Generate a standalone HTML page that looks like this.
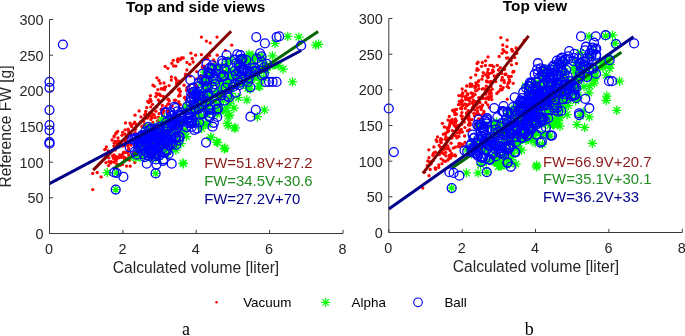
<!DOCTYPE html><html><head><meta charset="utf-8"><title>Figure</title><style>html,body{margin:0;padding:0;background:#fff}svg{display:block}</style></head><body><svg width="685" height="336" viewBox="0 0 685 336" font-family="'Liberation Sans', Arial, sans-serif"><rect width="685" height="336" fill="#fff"/><g fill="#f00"><circle cx="168.2" cy="99.2" r="1.65"/><circle cx="152.7" cy="125.4" r="1.65"/><circle cx="134.8" cy="162.6" r="1.65"/><circle cx="159.1" cy="113.6" r="1.65"/><circle cx="114.0" cy="154.9" r="1.65"/><circle cx="157.9" cy="89.6" r="1.65"/><circle cx="145.3" cy="126.2" r="1.65"/><circle cx="214.8" cy="61.9" r="1.65"/><circle cx="119.5" cy="141.5" r="1.65"/><circle cx="132.9" cy="153.0" r="1.65"/><circle cx="142.1" cy="134.5" r="1.65"/><circle cx="162.5" cy="117.0" r="1.65"/><circle cx="151.5" cy="117.0" r="1.65"/><circle cx="153.0" cy="85.2" r="1.65"/><circle cx="163.3" cy="96.5" r="1.65"/><circle cx="206.4" cy="41.1" r="1.65"/><circle cx="184.4" cy="97.8" r="1.65"/><circle cx="171.8" cy="63.3" r="1.65"/><circle cx="156.9" cy="77.8" r="1.65"/><circle cx="157.9" cy="94.6" r="1.65"/><circle cx="114.4" cy="159.0" r="1.65"/><circle cx="185.9" cy="100.0" r="1.65"/><circle cx="123.5" cy="152.7" r="1.65"/><circle cx="217.2" cy="55.2" r="1.65"/><circle cx="207.8" cy="69.5" r="1.65"/><circle cx="116.2" cy="160.6" r="1.65"/><circle cx="166.0" cy="106.5" r="1.65"/><circle cx="193.1" cy="62.0" r="1.65"/><circle cx="121.4" cy="157.4" r="1.65"/><circle cx="174.4" cy="100.3" r="1.65"/><circle cx="152.6" cy="104.3" r="1.65"/><circle cx="162.6" cy="110.0" r="1.65"/><circle cx="178.8" cy="101.6" r="1.65"/><circle cx="154.4" cy="86.3" r="1.65"/><circle cx="163.0" cy="122.9" r="1.65"/><circle cx="128.1" cy="129.2" r="1.65"/><circle cx="185.5" cy="76.2" r="1.65"/><circle cx="120.4" cy="165.2" r="1.65"/><circle cx="124.2" cy="157.2" r="1.65"/><circle cx="169.1" cy="85.6" r="1.65"/><circle cx="145.5" cy="113.6" r="1.65"/><circle cx="124.0" cy="152.1" r="1.65"/><circle cx="148.7" cy="102.6" r="1.65"/><circle cx="179.3" cy="89.0" r="1.65"/><circle cx="197.2" cy="87.0" r="1.65"/><circle cx="180.1" cy="91.5" r="1.65"/><circle cx="108.8" cy="157.8" r="1.65"/><circle cx="161.7" cy="108.8" r="1.65"/><circle cx="152.8" cy="122.5" r="1.65"/><circle cx="176.3" cy="79.8" r="1.65"/><circle cx="152.7" cy="114.1" r="1.65"/><circle cx="179.3" cy="81.1" r="1.65"/><circle cx="175.4" cy="77.9" r="1.65"/><circle cx="144.5" cy="145.0" r="1.65"/><circle cx="108.6" cy="165.6" r="1.65"/><circle cx="131.2" cy="125.3" r="1.65"/><circle cx="141.0" cy="116.9" r="1.65"/><circle cx="206.8" cy="74.3" r="1.65"/><circle cx="136.3" cy="124.5" r="1.65"/><circle cx="147.7" cy="101.3" r="1.65"/><circle cx="125.0" cy="134.2" r="1.65"/><circle cx="116.5" cy="158.8" r="1.65"/><circle cx="165.2" cy="66.4" r="1.65"/><circle cx="179.7" cy="94.7" r="1.65"/><circle cx="146.2" cy="116.9" r="1.65"/><circle cx="143.4" cy="144.5" r="1.65"/><circle cx="177.4" cy="60.4" r="1.65"/><circle cx="155.3" cy="117.6" r="1.65"/><circle cx="189.8" cy="64.3" r="1.65"/><circle cx="105.6" cy="157.5" r="1.65"/><circle cx="127.8" cy="159.1" r="1.65"/><circle cx="180.3" cy="81.5" r="1.65"/><circle cx="138.4" cy="149.4" r="1.65"/><circle cx="107.1" cy="154.5" r="1.65"/><circle cx="167.7" cy="110.9" r="1.65"/><circle cx="192.2" cy="58.5" r="1.65"/><circle cx="195.7" cy="85.0" r="1.65"/><circle cx="189.3" cy="90.9" r="1.65"/><circle cx="128.3" cy="144.4" r="1.65"/><circle cx="207.5" cy="58.3" r="1.65"/><circle cx="177.9" cy="58.8" r="1.65"/><circle cx="127.8" cy="146.0" r="1.65"/><circle cx="151.1" cy="127.2" r="1.65"/><circle cx="186.9" cy="70.0" r="1.65"/><circle cx="181.2" cy="58.4" r="1.65"/><circle cx="176.7" cy="84.6" r="1.65"/><circle cx="143.8" cy="121.3" r="1.65"/><circle cx="115.7" cy="148.7" r="1.65"/><circle cx="115.3" cy="148.8" r="1.65"/><circle cx="118.7" cy="157.8" r="1.65"/><circle cx="161.3" cy="88.6" r="1.65"/><circle cx="164.6" cy="89.7" r="1.65"/><circle cx="163.7" cy="123.6" r="1.65"/><circle cx="114.1" cy="143.1" r="1.65"/><circle cx="116.8" cy="143.6" r="1.65"/><circle cx="140.1" cy="152.8" r="1.65"/><circle cx="135.5" cy="146.5" r="1.65"/><circle cx="110.5" cy="163.2" r="1.65"/><circle cx="134.4" cy="145.0" r="1.65"/><circle cx="169.4" cy="100.8" r="1.65"/><circle cx="186.7" cy="90.2" r="1.65"/><circle cx="161.6" cy="113.1" r="1.65"/><circle cx="128.4" cy="130.5" r="1.65"/><circle cx="131.2" cy="145.0" r="1.65"/><circle cx="164.2" cy="87.7" r="1.65"/><circle cx="141.8" cy="126.6" r="1.65"/><circle cx="204.0" cy="68.5" r="1.65"/><circle cx="124.5" cy="157.6" r="1.65"/><circle cx="145.5" cy="137.1" r="1.65"/><circle cx="159.0" cy="80.5" r="1.65"/><circle cx="124.8" cy="152.6" r="1.65"/><circle cx="209.6" cy="55.5" r="1.65"/><circle cx="188.3" cy="94.9" r="1.65"/><circle cx="113.6" cy="158.2" r="1.65"/><circle cx="117.0" cy="166.7" r="1.65"/><circle cx="138.8" cy="152.6" r="1.65"/><circle cx="125.5" cy="140.2" r="1.65"/><circle cx="128.3" cy="135.9" r="1.65"/><circle cx="167.8" cy="68.3" r="1.65"/><circle cx="105.3" cy="149.3" r="1.65"/><circle cx="128.8" cy="148.3" r="1.65"/><circle cx="111.3" cy="161.7" r="1.65"/><circle cx="158.4" cy="125.5" r="1.65"/><circle cx="177.9" cy="61.7" r="1.65"/><circle cx="158.2" cy="99.8" r="1.65"/><circle cx="199.9" cy="78.1" r="1.65"/><circle cx="211.4" cy="70.1" r="1.65"/><circle cx="160.3" cy="83.3" r="1.65"/><circle cx="120.8" cy="155.9" r="1.65"/><circle cx="152.3" cy="113.9" r="1.65"/><circle cx="133.8" cy="123.6" r="1.65"/><circle cx="119.6" cy="154.9" r="1.65"/><circle cx="122.7" cy="132.3" r="1.65"/><circle cx="130.0" cy="123.1" r="1.65"/><circle cx="178.6" cy="103.2" r="1.65"/><circle cx="201.4" cy="54.7" r="1.65"/><circle cx="186.9" cy="62.4" r="1.65"/><circle cx="135.4" cy="129.3" r="1.65"/><circle cx="147.2" cy="118.2" r="1.65"/><circle cx="146.0" cy="125.7" r="1.65"/><circle cx="122.0" cy="135.3" r="1.65"/><circle cx="125.5" cy="122.9" r="1.65"/><circle cx="114.6" cy="156.1" r="1.65"/><circle cx="106.0" cy="162.7" r="1.65"/><circle cx="204.9" cy="77.0" r="1.65"/><circle cx="139.4" cy="142.3" r="1.65"/><circle cx="114.0" cy="136.9" r="1.65"/><circle cx="134.7" cy="122.2" r="1.65"/><circle cx="161.8" cy="89.2" r="1.65"/><circle cx="156.4" cy="93.3" r="1.65"/><circle cx="161.1" cy="109.5" r="1.65"/><circle cx="137.2" cy="143.9" r="1.65"/><circle cx="140.2" cy="122.1" r="1.65"/><circle cx="116.4" cy="156.6" r="1.65"/><circle cx="149.7" cy="112.9" r="1.65"/><circle cx="158.1" cy="120.7" r="1.65"/><circle cx="196.7" cy="71.6" r="1.65"/><circle cx="142.8" cy="125.9" r="1.65"/><circle cx="183.3" cy="57.9" r="1.65"/><circle cx="149.6" cy="115.9" r="1.65"/><circle cx="114.0" cy="162.2" r="1.65"/><circle cx="115.9" cy="133.7" r="1.65"/><circle cx="182.3" cy="79.9" r="1.65"/><circle cx="152.0" cy="128.8" r="1.65"/><circle cx="112.1" cy="140.0" r="1.65"/><circle cx="122.9" cy="146.1" r="1.65"/><circle cx="162.7" cy="121.7" r="1.65"/><circle cx="106.4" cy="146.9" r="1.65"/><circle cx="150.9" cy="101.5" r="1.65"/><circle cx="148.4" cy="138.3" r="1.65"/><circle cx="157.3" cy="121.1" r="1.65"/><circle cx="144.6" cy="124.5" r="1.65"/><circle cx="181.5" cy="57.8" r="1.65"/><circle cx="184.0" cy="85.2" r="1.65"/><circle cx="138.5" cy="142.9" r="1.65"/><circle cx="135.0" cy="115.2" r="1.65"/><circle cx="128.6" cy="149.9" r="1.65"/><circle cx="120.9" cy="143.5" r="1.65"/><circle cx="156.6" cy="107.0" r="1.65"/><circle cx="112.5" cy="156.0" r="1.65"/><circle cx="116.2" cy="132.8" r="1.65"/><circle cx="115.1" cy="150.0" r="1.65"/><circle cx="117.7" cy="131.5" r="1.65"/><circle cx="158.5" cy="117.1" r="1.65"/><circle cx="158.7" cy="127.3" r="1.65"/><circle cx="202.2" cy="66.9" r="1.65"/><circle cx="150.7" cy="100.2" r="1.65"/><circle cx="144.0" cy="118.7" r="1.65"/><circle cx="175.8" cy="66.1" r="1.65"/><circle cx="150.8" cy="106.9" r="1.65"/><circle cx="117.8" cy="141.1" r="1.65"/><circle cx="155.9" cy="111.2" r="1.65"/><circle cx="162.5" cy="122.6" r="1.65"/><circle cx="152.3" cy="117.7" r="1.65"/><circle cx="165.6" cy="87.0" r="1.65"/><circle cx="151.7" cy="133.9" r="1.65"/><circle cx="195.6" cy="55.2" r="1.65"/><circle cx="135.2" cy="132.7" r="1.65"/><circle cx="190.1" cy="76.2" r="1.65"/><circle cx="200.9" cy="75.4" r="1.65"/><circle cx="119.1" cy="145.1" r="1.65"/><circle cx="180.5" cy="59.5" r="1.65"/><circle cx="139.1" cy="110.9" r="1.65"/><circle cx="173.3" cy="60.3" r="1.65"/><circle cx="147.7" cy="117.3" r="1.65"/><circle cx="114.5" cy="158.1" r="1.65"/><circle cx="187.0" cy="87.7" r="1.65"/><circle cx="145.8" cy="111.3" r="1.65"/><circle cx="129.6" cy="160.1" r="1.65"/><circle cx="164.1" cy="120.7" r="1.65"/><circle cx="168.8" cy="103.8" r="1.65"/><circle cx="163.2" cy="113.0" r="1.65"/><circle cx="168.5" cy="94.4" r="1.65"/><circle cx="104.7" cy="149.6" r="1.65"/><circle cx="178.4" cy="83.0" r="1.65"/><circle cx="155.8" cy="96.6" r="1.65"/><circle cx="160.6" cy="95.7" r="1.65"/><circle cx="154.7" cy="127.4" r="1.65"/><circle cx="180.4" cy="104.7" r="1.65"/><circle cx="128.1" cy="152.3" r="1.65"/><circle cx="150.4" cy="95.7" r="1.65"/><circle cx="164.4" cy="118.8" r="1.65"/><circle cx="178.6" cy="96.1" r="1.65"/><circle cx="136.4" cy="155.2" r="1.65"/><circle cx="157.6" cy="125.1" r="1.65"/><circle cx="172.2" cy="105.9" r="1.65"/><circle cx="128.7" cy="155.1" r="1.65"/><circle cx="164.0" cy="83.0" r="1.65"/><circle cx="150.2" cy="99.2" r="1.65"/><circle cx="190.2" cy="90.8" r="1.65"/><circle cx="108.4" cy="150.9" r="1.65"/><circle cx="179.7" cy="82.9" r="1.65"/><circle cx="204.2" cy="59.3" r="1.65"/><circle cx="126.7" cy="152.4" r="1.65"/><circle cx="124.8" cy="159.3" r="1.65"/><circle cx="122.3" cy="154.7" r="1.65"/><circle cx="164.1" cy="118.1" r="1.65"/><circle cx="175.6" cy="100.2" r="1.65"/><circle cx="137.6" cy="146.2" r="1.65"/><circle cx="126.9" cy="138.3" r="1.65"/><circle cx="180.1" cy="95.7" r="1.65"/><circle cx="114.0" cy="158.5" r="1.65"/><circle cx="154.6" cy="131.7" r="1.65"/><circle cx="185.6" cy="74.2" r="1.65"/><circle cx="167.7" cy="112.3" r="1.65"/><circle cx="171.3" cy="80.0" r="1.65"/><circle cx="128.9" cy="132.8" r="1.65"/><circle cx="131.7" cy="126.5" r="1.65"/><circle cx="109.0" cy="161.6" r="1.65"/><circle cx="185.1" cy="97.1" r="1.65"/><circle cx="196.7" cy="78.8" r="1.65"/><circle cx="114.0" cy="145.9" r="1.65"/><circle cx="129.5" cy="159.9" r="1.65"/><circle cx="178.3" cy="89.6" r="1.65"/><circle cx="159.4" cy="93.9" r="1.65"/><circle cx="180.2" cy="91.4" r="1.65"/><circle cx="146.7" cy="107.6" r="1.65"/><circle cx="126.5" cy="166.1" r="1.65"/><circle cx="190.9" cy="53.2" r="1.65"/><circle cx="152.7" cy="130.9" r="1.65"/><circle cx="147.1" cy="135.1" r="1.65"/><circle cx="127.5" cy="158.2" r="1.65"/><circle cx="168.2" cy="99.7" r="1.65"/><circle cx="176.6" cy="82.7" r="1.65"/><circle cx="130.2" cy="166.2" r="1.65"/><circle cx="144.7" cy="115.0" r="1.65"/><circle cx="150.9" cy="119.4" r="1.65"/><circle cx="118.3" cy="157.7" r="1.65"/><circle cx="154.8" cy="134.0" r="1.65"/><circle cx="135.6" cy="142.9" r="1.65"/><circle cx="163.8" cy="110.6" r="1.65"/><circle cx="162.8" cy="124.0" r="1.65"/><circle cx="225.4" cy="50.4" r="1.65"/><circle cx="114.3" cy="135.8" r="1.65"/><circle cx="186.7" cy="90.1" r="1.65"/><circle cx="162.4" cy="105.4" r="1.65"/><circle cx="122.5" cy="164.4" r="1.65"/><circle cx="118.0" cy="138.0" r="1.65"/><circle cx="116.8" cy="164.0" r="1.65"/><circle cx="167.8" cy="104.2" r="1.65"/><circle cx="115.2" cy="141.3" r="1.65"/><circle cx="125.4" cy="142.1" r="1.65"/><circle cx="171.7" cy="91.5" r="1.65"/><circle cx="146.1" cy="135.0" r="1.65"/><circle cx="206.9" cy="58.9" r="1.65"/><circle cx="131.2" cy="125.0" r="1.65"/><circle cx="171.4" cy="76.8" r="1.65"/><circle cx="135.1" cy="152.4" r="1.65"/><circle cx="149.8" cy="124.4" r="1.65"/><circle cx="125.1" cy="129.8" r="1.65"/><circle cx="173.6" cy="65.9" r="1.65"/><circle cx="131.1" cy="134.2" r="1.65"/><circle cx="189.8" cy="90.3" r="1.65"/><circle cx="159.5" cy="101.4" r="1.65"/><circle cx="213.5" cy="59.8" r="1.65"/><circle cx="169.3" cy="114.0" r="1.65"/><circle cx="189.3" cy="85.4" r="1.65"/><circle cx="203.9" cy="66.2" r="1.65"/><circle cx="123.4" cy="145.3" r="1.65"/><circle cx="154.2" cy="115.0" r="1.65"/><circle cx="92.7" cy="189.6" r="1.65"/><circle cx="92.7" cy="173.4" r="1.65"/><circle cx="97.2" cy="172.5" r="1.65"/><circle cx="101.1" cy="176.9" r="1.65"/><circle cx="201.4" cy="37.1" r="1.65"/><circle cx="217.0" cy="37.1" r="1.65"/><circle cx="210.2" cy="42.9" r="1.65"/><circle cx="231.7" cy="45.2" r="1.65"/></g><line x1="93.2" y1="170.1" x2="231.1" y2="31.2" stroke="#800000" stroke-width="3"/><g fill="none" stroke="#0f0" stroke-width="1.25"><path d="M248.3 55.5h9.4M253.0 50.8v9.4M249.7 52.1l6.6 6.6M249.7 58.8l6.6 -6.6M151.2 131.4h9.4M155.9 126.7v9.4M152.6 128.0l6.6 6.6M152.6 134.7l6.6 -6.6M267.7 55.8h9.4M272.4 51.1v9.4M269.1 52.4l6.6 6.6M269.1 59.1l6.6 -6.6M249.7 77.8h9.4M254.4 73.1v9.4M251.0 74.5l6.6 6.6M251.0 81.1l6.6 -6.6M221.8 107.9h9.4M226.5 103.2v9.4M223.2 104.5l6.6 6.6M223.2 111.2l6.6 -6.6M129.0 156.9h9.4M133.7 152.2v9.4M130.4 153.6l6.6 6.6M130.4 160.3l6.6 -6.6M228.4 71.2h9.4M233.1 66.5v9.4M229.7 67.9l6.6 6.6M229.7 74.5l6.6 -6.6M216.8 74.5h9.4M221.5 69.8v9.4M218.2 71.2l6.6 6.6M218.2 77.8l6.6 -6.6M238.9 84.4h9.4M243.6 79.7v9.4M240.3 81.1l6.6 6.6M240.3 87.7l6.6 -6.6M269.6 64.9h9.4M274.3 60.2v9.4M270.9 61.6l6.6 6.6M270.9 68.3l6.6 -6.6M135.2 138.9h9.4M139.9 134.2v9.4M136.6 135.5l6.6 6.6M136.6 142.2l6.6 -6.6M190.2 93.1h9.4M194.9 88.4v9.4M191.6 89.8l6.6 6.6M191.6 96.4l6.6 -6.6M245.1 72.5h9.4M249.8 67.8v9.4M246.4 69.2l6.6 6.6M246.4 75.9l6.6 -6.6M223.7 61.1h9.4M228.4 56.4v9.4M225.0 57.8l6.6 6.6M225.0 64.5l6.6 -6.6M246.6 67.6h9.4M251.3 62.9v9.4M248.0 64.3l6.6 6.6M248.0 70.9l6.6 -6.6M250.0 74.0h9.4M254.7 69.3v9.4M251.3 70.7l6.6 6.6M251.3 77.3l6.6 -6.6M137.0 146.2h9.4M141.7 141.5v9.4M138.4 142.8l6.6 6.6M138.4 149.5l6.6 -6.6M245.1 56.6h9.4M249.8 51.9v9.4M246.5 53.2l6.6 6.6M246.5 59.9l6.6 -6.6M230.8 75.6h9.4M235.5 70.9v9.4M232.2 72.3l6.6 6.6M232.2 79.0l6.6 -6.6M145.1 157.7h9.4M149.8 153.0v9.4M146.5 154.4l6.6 6.6M146.5 161.0l6.6 -6.6M155.1 132.0h9.4M159.8 127.3v9.4M156.4 128.7l6.6 6.6M156.4 135.3l6.6 -6.6M147.5 153.3h9.4M152.2 148.6v9.4M148.9 150.0l6.6 6.6M148.9 156.7l6.6 -6.6M164.2 130.4h9.4M168.9 125.7v9.4M165.5 127.1l6.6 6.6M165.5 133.7l6.6 -6.6M151.7 131.8h9.4M156.4 127.1v9.4M153.1 128.5l6.6 6.6M153.1 135.1l6.6 -6.6M171.5 139.0h9.4M176.2 134.3v9.4M172.9 135.6l6.6 6.6M172.9 142.3l6.6 -6.6M133.1 142.2h9.4M137.8 137.5v9.4M134.4 138.9l6.6 6.6M134.4 145.5l6.6 -6.6M216.4 85.4h9.4M221.1 80.7v9.4M217.8 82.1l6.6 6.6M217.8 88.7l6.6 -6.6M222.7 84.9h9.4M227.4 80.2v9.4M224.0 81.6l6.6 6.6M224.0 88.2l6.6 -6.6M243.8 86.0h9.4M248.5 81.3v9.4M245.2 82.6l6.6 6.6M245.2 89.3l6.6 -6.6M161.7 126.3h9.4M166.4 121.6v9.4M163.1 123.0l6.6 6.6M163.1 129.6l6.6 -6.6M268.2 64.7h9.4M272.9 60.0v9.4M269.6 61.4l6.6 6.6M269.6 68.0l6.6 -6.6M190.6 97.6h9.4M195.3 92.9v9.4M191.9 94.2l6.6 6.6M191.9 100.9l6.6 -6.6M254.0 56.6h9.4M258.7 51.9v9.4M255.3 53.2l6.6 6.6M255.3 59.9l6.6 -6.6M148.0 144.4h9.4M152.7 139.7v9.4M149.3 141.1l6.6 6.6M149.3 147.7l6.6 -6.6M233.8 65.7h9.4M238.5 61.0v9.4M235.2 62.4l6.6 6.6M235.2 69.0l6.6 -6.6M163.2 144.1h9.4M167.9 139.4v9.4M164.6 140.8l6.6 6.6M164.6 147.5l6.6 -6.6M151.1 133.0h9.4M155.8 128.3v9.4M152.5 129.7l6.6 6.6M152.5 136.3l6.6 -6.6M164.7 142.9h9.4M169.4 138.2v9.4M166.1 139.6l6.6 6.6M166.1 146.2l6.6 -6.6M155.4 124.7h9.4M160.1 120.0v9.4M156.8 121.4l6.6 6.6M156.8 128.0l6.6 -6.6M139.4 143.6h9.4M144.1 138.9v9.4M140.8 140.3l6.6 6.6M140.8 146.9l6.6 -6.6M248.4 60.0h9.4M253.1 55.3v9.4M249.8 56.7l6.6 6.6M249.8 63.3l6.6 -6.6M155.7 128.6h9.4M160.4 123.9v9.4M157.1 125.3l6.6 6.6M157.1 131.9l6.6 -6.6M235.6 63.1h9.4M240.3 58.4v9.4M237.0 59.7l6.6 6.6M237.0 66.4l6.6 -6.6M260.6 69.9h9.4M265.3 65.2v9.4M261.9 66.5l6.6 6.6M261.9 73.2l6.6 -6.6M198.5 82.6h9.4M203.2 77.9v9.4M199.9 79.3l6.6 6.6M199.9 85.9l6.6 -6.6M258.2 61.7h9.4M262.9 57.0v9.4M259.6 58.4l6.6 6.6M259.6 65.1l6.6 -6.6M140.9 153.7h9.4M145.6 149.0v9.4M142.2 150.4l6.6 6.6M142.2 157.1l6.6 -6.6M199.4 99.0h9.4M204.1 94.3v9.4M200.8 95.6l6.6 6.6M200.8 102.3l6.6 -6.6M208.6 82.4h9.4M213.3 77.7v9.4M209.9 79.0l6.6 6.6M209.9 85.7l6.6 -6.6M222.9 83.0h9.4M227.6 78.3v9.4M224.3 79.7l6.6 6.6M224.3 86.4l6.6 -6.6M241.3 60.5h9.4M246.0 55.8v9.4M242.7 57.1l6.6 6.6M242.7 63.8l6.6 -6.6M218.8 100.7h9.4M223.5 96.0v9.4M220.2 97.3l6.6 6.6M220.2 104.0l6.6 -6.6M168.4 128.2h9.4M173.1 123.5v9.4M169.8 124.9l6.6 6.6M169.8 131.6l6.6 -6.6M186.5 108.8h9.4M191.2 104.1v9.4M187.8 105.4l6.6 6.6M187.8 112.1l6.6 -6.6M193.2 124.0h9.4M197.9 119.3v9.4M194.6 120.6l6.6 6.6M194.6 127.3l6.6 -6.6M143.7 140.7h9.4M148.4 136.0v9.4M145.1 137.4l6.6 6.6M145.1 144.0l6.6 -6.6M235.4 59.3h9.4M240.1 54.6v9.4M236.8 56.0l6.6 6.6M236.8 62.6l6.6 -6.6M239.2 77.1h9.4M243.9 72.4v9.4M240.5 73.8l6.6 6.6M240.5 80.5l6.6 -6.6M261.7 70.1h9.4M266.4 65.4v9.4M263.1 66.7l6.6 6.6M263.1 73.4l6.6 -6.6M234.3 83.2h9.4M239.0 78.5v9.4M235.6 79.9l6.6 6.6M235.6 86.6l6.6 -6.6M165.0 129.6h9.4M169.7 124.9v9.4M166.4 126.3l6.6 6.6M166.4 133.0l6.6 -6.6M246.6 78.3h9.4M251.3 73.6v9.4M248.0 75.0l6.6 6.6M248.0 81.7l6.6 -6.6M140.2 153.1h9.4M144.9 148.4v9.4M141.5 149.8l6.6 6.6M141.5 156.5l6.6 -6.6M181.2 109.4h9.4M185.9 104.7v9.4M182.5 106.1l6.6 6.6M182.5 112.7l6.6 -6.6M160.0 145.5h9.4M164.7 140.8v9.4M161.4 142.2l6.6 6.6M161.4 148.9l6.6 -6.6M171.2 150.2h9.4M175.9 145.5v9.4M172.6 146.8l6.6 6.6M172.6 153.5l6.6 -6.6M145.7 145.7h9.4M150.4 141.0v9.4M147.1 142.4l6.6 6.6M147.1 149.0l6.6 -6.6M242.5 75.3h9.4M247.2 70.6v9.4M243.9 72.0l6.6 6.6M243.9 78.6l6.6 -6.6M139.0 138.1h9.4M143.7 133.4v9.4M140.4 134.8l6.6 6.6M140.4 141.4l6.6 -6.6M137.1 146.5h9.4M141.8 141.8v9.4M138.5 143.1l6.6 6.6M138.5 149.8l6.6 -6.6M196.2 123.7h9.4M200.9 119.0v9.4M197.6 120.4l6.6 6.6M197.6 127.1l6.6 -6.6M257.8 57.1h9.4M262.5 52.4v9.4M259.1 53.8l6.6 6.6M259.1 60.4l6.6 -6.6M150.2 152.6h9.4M154.9 147.9v9.4M151.6 149.2l6.6 6.6M151.6 155.9l6.6 -6.6M148.3 146.3h9.4M153.0 141.6v9.4M149.7 143.0l6.6 6.6M149.7 149.6l6.6 -6.6M215.1 89.8h9.4M219.8 85.1v9.4M216.5 86.4l6.6 6.6M216.5 93.1l6.6 -6.6M138.7 144.9h9.4M143.4 140.2v9.4M140.0 141.6l6.6 6.6M140.0 148.2l6.6 -6.6M222.2 63.8h9.4M226.9 59.1v9.4M223.5 60.5l6.6 6.6M223.5 67.2l6.6 -6.6M201.4 123.3h9.4M206.1 118.6v9.4M202.8 120.0l6.6 6.6M202.8 126.7l6.6 -6.6M152.7 141.3h9.4M157.4 136.6v9.4M154.0 138.0l6.6 6.6M154.0 144.6l6.6 -6.6M220.9 85.8h9.4M225.6 81.1v9.4M222.3 82.4l6.6 6.6M222.3 89.1l6.6 -6.6M187.9 92.7h9.4M192.6 88.0v9.4M189.3 89.4l6.6 6.6M189.3 96.1l6.6 -6.6M139.8 151.5h9.4M144.5 146.8v9.4M141.2 148.2l6.6 6.6M141.2 154.8l6.6 -6.6M241.3 67.6h9.4M246.0 62.9v9.4M242.7 64.3l6.6 6.6M242.7 70.9l6.6 -6.6M214.6 82.4h9.4M219.3 77.7v9.4M216.0 79.0l6.6 6.6M216.0 85.7l6.6 -6.6M146.3 130.6h9.4M151.0 125.9v9.4M147.6 127.2l6.6 6.6M147.6 133.9l6.6 -6.6M161.4 140.7h9.4M166.1 136.0v9.4M162.8 137.4l6.6 6.6M162.8 144.1l6.6 -6.6M147.4 156.8h9.4M152.1 152.1v9.4M148.8 153.5l6.6 6.6M148.8 160.1l6.6 -6.6M203.1 124.6h9.4M207.8 119.9v9.4M204.5 121.3l6.6 6.6M204.5 127.9l6.6 -6.6M135.5 157.2h9.4M140.2 152.5v9.4M136.9 153.9l6.6 6.6M136.9 160.5l6.6 -6.6M205.7 97.4h9.4M210.4 92.7v9.4M207.1 94.1l6.6 6.6M207.1 100.7l6.6 -6.6M228.5 74.7h9.4M233.2 70.0v9.4M229.9 71.4l6.6 6.6M229.9 78.0l6.6 -6.6M200.5 89.8h9.4M205.2 85.1v9.4M201.8 86.5l6.6 6.6M201.8 93.1l6.6 -6.6M131.1 157.7h9.4M135.8 153.0v9.4M132.5 154.4l6.6 6.6M132.5 161.0l6.6 -6.6M147.1 147.3h9.4M151.8 142.6v9.4M148.5 144.0l6.6 6.6M148.5 150.6l6.6 -6.6M244.4 57.1h9.4M249.1 52.4v9.4M245.8 53.8l6.6 6.6M245.8 60.4l6.6 -6.6M153.8 145.3h9.4M158.5 140.6v9.4M155.2 142.0l6.6 6.6M155.2 148.7l6.6 -6.6M150.7 144.0h9.4M155.4 139.3v9.4M152.0 140.7l6.6 6.6M152.0 147.3l6.6 -6.6M234.2 70.7h9.4M238.9 66.0v9.4M235.5 67.4l6.6 6.6M235.5 74.0l6.6 -6.6M153.7 159.1h9.4M158.4 154.4v9.4M155.0 155.7l6.6 6.6M155.0 162.4l6.6 -6.6M223.8 85.5h9.4M228.5 80.8v9.4M225.2 82.2l6.6 6.6M225.2 88.8l6.6 -6.6M255.5 80.3h9.4M260.2 75.6v9.4M256.9 77.0l6.6 6.6M256.9 83.6l6.6 -6.6M226.4 78.7h9.4M231.1 74.0v9.4M227.7 75.4l6.6 6.6M227.7 82.0l6.6 -6.6M180.3 130.0h9.4M185.0 125.3v9.4M181.7 126.7l6.6 6.6M181.7 133.3l6.6 -6.6M229.0 77.0h9.4M233.7 72.3v9.4M230.4 73.6l6.6 6.6M230.4 80.3l6.6 -6.6M239.7 82.4h9.4M244.4 77.7v9.4M241.1 79.1l6.6 6.6M241.1 85.8l6.6 -6.6M229.2 76.1h9.4M233.9 71.4v9.4M230.6 72.7l6.6 6.6M230.6 79.4l6.6 -6.6M154.9 151.8h9.4M159.6 147.1v9.4M156.2 148.5l6.6 6.6M156.2 155.1l6.6 -6.6M245.2 89.1h9.4M249.9 84.4v9.4M246.6 85.8l6.6 6.6M246.6 92.4l6.6 -6.6M161.5 138.8h9.4M166.2 134.1v9.4M162.9 135.5l6.6 6.6M162.9 142.1l6.6 -6.6M167.8 135.0h9.4M172.5 130.3v9.4M169.2 131.7l6.6 6.6M169.2 138.3l6.6 -6.6M212.4 113.9h9.4M217.1 109.2v9.4M213.7 110.6l6.6 6.6M213.7 117.2l6.6 -6.6M200.4 81.6h9.4M205.1 76.9v9.4M201.8 78.3l6.6 6.6M201.8 84.9l6.6 -6.6M210.1 67.9h9.4M214.8 63.2v9.4M211.5 64.6l6.6 6.6M211.5 71.3l6.6 -6.6M176.1 134.9h9.4M180.8 130.2v9.4M177.5 131.6l6.6 6.6M177.5 138.2l6.6 -6.6M205.5 85.4h9.4M210.2 80.7v9.4M206.9 82.1l6.6 6.6M206.9 88.7l6.6 -6.6M246.1 77.0h9.4M250.8 72.3v9.4M247.5 73.7l6.6 6.6M247.5 80.3l6.6 -6.6M234.3 61.7h9.4M239.0 57.0v9.4M235.7 58.4l6.6 6.6M235.7 65.0l6.6 -6.6M213.2 94.2h9.4M217.9 89.5v9.4M214.6 90.8l6.6 6.6M214.6 97.5l6.6 -6.6M196.5 82.3h9.4M201.2 77.6v9.4M197.9 79.0l6.6 6.6M197.9 85.7l6.6 -6.6M217.3 77.4h9.4M222.0 72.7v9.4M218.7 74.1l6.6 6.6M218.7 80.8l6.6 -6.6M226.3 59.4h9.4M231.0 54.7v9.4M227.6 56.1l6.6 6.6M227.6 62.7l6.6 -6.6M195.4 100.5h9.4M200.1 95.8v9.4M196.8 97.1l6.6 6.6M196.8 103.8l6.6 -6.6M170.4 145.1h9.4M175.1 140.4v9.4M171.8 141.8l6.6 6.6M171.8 148.4l6.6 -6.6M133.1 148.3h9.4M137.8 143.6v9.4M134.4 145.0l6.6 6.6M134.4 151.7l6.6 -6.6M135.4 156.0h9.4M140.1 151.3v9.4M136.8 152.7l6.6 6.6M136.8 159.3l6.6 -6.6M192.1 106.2h9.4M196.8 101.5v9.4M193.5 102.9l6.6 6.6M193.5 109.5l6.6 -6.6M223.5 70.3h9.4M228.2 65.6v9.4M224.9 67.0l6.6 6.6M224.9 73.6l6.6 -6.6M169.0 147.8h9.4M173.7 143.1v9.4M170.4 144.4l6.6 6.6M170.4 151.1l6.6 -6.6M221.8 77.1h9.4M226.5 72.4v9.4M223.2 73.7l6.6 6.6M223.2 80.4l6.6 -6.6M246.5 60.6h9.4M251.2 55.9v9.4M247.9 57.3l6.6 6.6M247.9 63.9l6.6 -6.6M150.9 133.3h9.4M155.6 128.6v9.4M152.3 129.9l6.6 6.6M152.3 136.6l6.6 -6.6M223.8 71.6h9.4M228.5 66.9v9.4M225.2 68.3l6.6 6.6M225.2 74.9l6.6 -6.6M232.9 71.9h9.4M237.6 67.2v9.4M234.3 68.6l6.6 6.6M234.3 75.2l6.6 -6.6M241.8 59.3h9.4M246.5 54.6v9.4M243.2 55.9l6.6 6.6M243.2 62.6l6.6 -6.6M157.2 120.2h9.4M161.9 115.5v9.4M158.6 116.9l6.6 6.6M158.6 123.5l6.6 -6.6M159.8 130.3h9.4M164.5 125.6v9.4M161.2 127.0l6.6 6.6M161.2 133.6l6.6 -6.6M203.5 111.5h9.4M208.2 106.8v9.4M204.9 108.2l6.6 6.6M204.9 114.8l6.6 -6.6M213.5 99.7h9.4M218.2 95.0v9.4M214.8 96.4l6.6 6.6M214.8 103.1l6.6 -6.6M222.6 82.2h9.4M227.3 77.5v9.4M224.0 78.8l6.6 6.6M224.0 85.5l6.6 -6.6M145.0 126.5h9.4M149.7 121.8v9.4M146.4 123.1l6.6 6.6M146.4 129.8l6.6 -6.6M197.0 82.7h9.4M201.7 78.0v9.4M198.4 79.4l6.6 6.6M198.4 86.1l6.6 -6.6M166.6 118.6h9.4M171.3 113.9v9.4M168.0 115.3l6.6 6.6M168.0 121.9l6.6 -6.6M225.7 98.4h9.4M230.4 93.7v9.4M227.1 95.1l6.6 6.6M227.1 101.8l6.6 -6.6M168.6 118.7h9.4M173.3 114.0v9.4M170.0 115.3l6.6 6.6M170.0 122.0l6.6 -6.6M196.7 92.3h9.4M201.4 87.6v9.4M198.1 88.9l6.6 6.6M198.1 95.6l6.6 -6.6M196.5 105.8h9.4M201.2 101.1v9.4M197.9 102.5l6.6 6.6M197.9 109.2l6.6 -6.6M209.6 93.6h9.4M214.3 88.9v9.4M211.0 90.3l6.6 6.6M211.0 96.9l6.6 -6.6M189.4 106.7h9.4M194.1 102.0v9.4M190.7 103.4l6.6 6.6M190.7 110.0l6.6 -6.6M181.8 106.0h9.4M186.5 101.3v9.4M183.2 102.7l6.6 6.6M183.2 109.3l6.6 -6.6M151.7 128.6h9.4M156.4 123.9v9.4M153.1 125.3l6.6 6.6M153.1 131.9l6.6 -6.6M217.9 109.6h9.4M222.6 104.9v9.4M219.3 106.3l6.6 6.6M219.3 112.9l6.6 -6.6M234.0 79.5h9.4M238.7 74.8v9.4M235.4 76.1l6.6 6.6M235.4 82.8l6.6 -6.6M174.7 120.3h9.4M179.4 115.6v9.4M176.1 117.0l6.6 6.6M176.1 123.6l6.6 -6.6M254.0 86.2h9.4M258.7 81.5v9.4M255.4 82.9l6.6 6.6M255.4 89.5l6.6 -6.6M158.0 145.4h9.4M162.7 140.7v9.4M159.4 142.1l6.6 6.6M159.4 148.8l6.6 -6.6M252.3 76.1h9.4M257.0 71.4v9.4M253.7 72.8l6.6 6.6M253.7 79.4l6.6 -6.6M245.1 60.8h9.4M249.8 56.1v9.4M246.5 57.5l6.6 6.6M246.5 64.1l6.6 -6.6M208.0 75.0h9.4M212.7 70.3v9.4M209.3 71.6l6.6 6.6M209.3 78.3l6.6 -6.6M141.5 128.2h9.4M146.2 123.5v9.4M142.9 124.8l6.6 6.6M142.9 131.5l6.6 -6.6M156.7 139.0h9.4M161.4 134.3v9.4M158.0 135.7l6.6 6.6M158.0 142.4l6.6 -6.6M153.9 146.4h9.4M158.6 141.7v9.4M155.3 143.1l6.6 6.6M155.3 149.7l6.6 -6.6M160.8 149.8h9.4M165.5 145.1v9.4M162.2 146.5l6.6 6.6M162.2 153.2l6.6 -6.6M243.8 83.4h9.4M248.5 78.7v9.4M245.2 80.1l6.6 6.6M245.2 86.7l6.6 -6.6M226.4 93.4h9.4M231.1 88.7v9.4M227.8 90.1l6.6 6.6M227.8 96.7l6.6 -6.6M143.8 141.0h9.4M148.5 136.3v9.4M145.2 137.6l6.6 6.6M145.2 144.3l6.6 -6.6M151.7 151.6h9.4M156.4 146.9v9.4M153.0 148.2l6.6 6.6M153.0 154.9l6.6 -6.6M202.2 114.1h9.4M206.9 109.4v9.4M203.6 110.7l6.6 6.6M203.6 117.4l6.6 -6.6M154.7 140.5h9.4M159.4 135.8v9.4M156.1 137.2l6.6 6.6M156.1 143.8l6.6 -6.6M244.3 54.3h9.4M249.0 49.6v9.4M245.7 50.9l6.6 6.6M245.7 57.6l6.6 -6.6M155.5 129.2h9.4M160.2 124.5v9.4M156.9 125.9l6.6 6.6M156.9 132.6l6.6 -6.6M222.2 73.2h9.4M226.9 68.5v9.4M223.6 69.9l6.6 6.6M223.6 76.5l6.6 -6.6M224.2 79.5h9.4M228.9 74.8v9.4M225.6 76.2l6.6 6.6M225.6 82.8l6.6 -6.6M241.2 73.7h9.4M245.9 69.0v9.4M242.6 70.4l6.6 6.6M242.6 77.0l6.6 -6.6M262.5 66.7h9.4M267.2 62.0v9.4M263.8 63.4l6.6 6.6M263.8 70.0l6.6 -6.6M256.7 69.3h9.4M261.4 64.6v9.4M258.1 65.9l6.6 6.6M258.1 72.6l6.6 -6.6M225.2 103.1h9.4M229.9 98.4v9.4M226.6 99.8l6.6 6.6M226.6 106.4l6.6 -6.6M150.0 127.0h9.4M154.7 122.3v9.4M151.4 123.7l6.6 6.6M151.4 130.3l6.6 -6.6M203.3 85.5h9.4M208.0 80.8v9.4M204.7 82.1l6.6 6.6M204.7 88.8l6.6 -6.6M233.6 97.7h9.4M238.3 93.0v9.4M234.9 94.4l6.6 6.6M234.9 101.0l6.6 -6.6M135.9 149.9h9.4M140.6 145.2v9.4M137.2 146.6l6.6 6.6M137.2 153.2l6.6 -6.6M196.7 95.2h9.4M201.4 90.5v9.4M198.1 91.9l6.6 6.6M198.1 98.5l6.6 -6.6M178.7 132.0h9.4M183.4 127.3v9.4M180.1 128.7l6.6 6.6M180.1 135.3l6.6 -6.6M150.9 139.6h9.4M155.6 134.9v9.4M152.2 136.3l6.6 6.6M152.2 143.0l6.6 -6.6M211.1 112.1h9.4M215.8 107.4v9.4M212.5 108.7l6.6 6.6M212.5 115.4l6.6 -6.6M203.2 90.1h9.4M207.9 85.4v9.4M204.5 86.8l6.6 6.6M204.5 93.4l6.6 -6.6M168.6 129.9h9.4M173.3 125.2v9.4M170.0 126.5l6.6 6.6M170.0 133.2l6.6 -6.6M243.1 88.2h9.4M247.8 83.5v9.4M244.5 84.9l6.6 6.6M244.5 91.5l6.6 -6.6M134.4 137.8h9.4M139.1 133.1v9.4M135.8 134.5l6.6 6.6M135.8 141.1l6.6 -6.6M216.0 110.9h9.4M220.7 106.2v9.4M217.4 107.6l6.6 6.6M217.4 114.2l6.6 -6.6M233.1 76.1h9.4M237.8 71.4v9.4M234.4 72.7l6.6 6.6M234.4 79.4l6.6 -6.6M173.0 120.8h9.4M177.7 116.1v9.4M174.3 117.5l6.6 6.6M174.3 124.1l6.6 -6.6M261.3 66.8h9.4M266.0 62.1v9.4M262.7 63.5l6.6 6.6M262.7 70.1l6.6 -6.6M148.9 141.8h9.4M153.6 137.1v9.4M150.3 138.5l6.6 6.6M150.3 145.2l6.6 -6.6M174.8 128.9h9.4M179.5 124.2v9.4M176.1 125.5l6.6 6.6M176.1 132.2l6.6 -6.6M196.5 116.1h9.4M201.2 111.4v9.4M197.9 112.8l6.6 6.6M197.9 119.5l6.6 -6.6M159.7 117.9h9.4M164.4 113.2v9.4M161.1 114.5l6.6 6.6M161.1 121.2l6.6 -6.6M199.7 72.0h9.4M204.4 67.3v9.4M201.1 68.7l6.6 6.6M201.1 75.3l6.6 -6.6M149.7 145.1h9.4M154.4 140.4v9.4M151.0 141.7l6.6 6.6M151.0 148.4l6.6 -6.6M211.6 105.9h9.4M216.3 101.2v9.4M213.0 102.6l6.6 6.6M213.0 109.3l6.6 -6.6M204.4 111.8h9.4M209.1 107.1v9.4M205.8 108.5l6.6 6.6M205.8 115.1l6.6 -6.6M208.2 72.0h9.4M212.9 67.3v9.4M209.6 68.7l6.6 6.6M209.6 75.4l6.6 -6.6M204.4 74.0h9.4M209.1 69.3v9.4M205.7 70.7l6.6 6.6M205.7 77.3l6.6 -6.6M220.7 111.0h9.4M225.4 106.3v9.4M222.1 107.7l6.6 6.6M222.1 114.3l6.6 -6.6M177.9 123.7h9.4M182.6 119.0v9.4M179.3 120.4l6.6 6.6M179.3 127.0l6.6 -6.6M153.8 148.8h9.4M158.5 144.1v9.4M155.2 145.5l6.6 6.6M155.2 152.1l6.6 -6.6M186.8 105.0h9.4M191.5 100.3v9.4M188.2 101.7l6.6 6.6M188.2 108.3l6.6 -6.6M161.7 154.6h9.4M166.4 149.9v9.4M163.1 151.3l6.6 6.6M163.1 157.9l6.6 -6.6M196.1 125.8h9.4M200.8 121.1v9.4M197.5 122.5l6.6 6.6M197.5 129.2l6.6 -6.6M213.9 104.3h9.4M218.6 99.6v9.4M215.2 100.9l6.6 6.6M215.2 107.6l6.6 -6.6M139.3 143.9h9.4M144.0 139.2v9.4M140.6 140.6l6.6 6.6M140.6 147.3l6.6 -6.6M181.7 136.6h9.4M186.4 131.9v9.4M183.1 133.2l6.6 6.6M183.1 139.9l6.6 -6.6M204.3 97.1h9.4M209.0 92.4v9.4M205.7 93.8l6.6 6.6M205.7 100.5l6.6 -6.6M138.6 152.0h9.4M143.3 147.3v9.4M140.0 148.6l6.6 6.6M140.0 155.3l6.6 -6.6M259.1 77.6h9.4M263.8 72.9v9.4M260.5 74.3l6.6 6.6M260.5 81.0l6.6 -6.6M142.8 140.8h9.4M147.5 136.1v9.4M144.1 137.5l6.6 6.6M144.1 144.2l6.6 -6.6M210.6 66.3h9.4M215.3 61.6v9.4M212.0 63.0l6.6 6.6M212.0 69.7l6.6 -6.6M201.6 96.9h9.4M206.3 92.2v9.4M202.9 93.6l6.6 6.6M202.9 100.2l6.6 -6.6M251.2 68.1h9.4M255.9 63.4v9.4M252.6 64.8l6.6 6.6M252.6 71.4l6.6 -6.6M164.8 139.9h9.4M169.5 135.2v9.4M166.2 136.5l6.6 6.6M166.2 143.2l6.6 -6.6M193.1 95.7h9.4M197.8 91.0v9.4M194.4 92.4l6.6 6.6M194.4 99.0l6.6 -6.6M148.7 134.0h9.4M153.4 129.3v9.4M150.0 130.7l6.6 6.6M150.0 137.3l6.6 -6.6M188.4 110.6h9.4M193.1 105.9v9.4M189.8 107.3l6.6 6.6M189.8 113.9l6.6 -6.6M224.2 83.5h9.4M228.9 78.8v9.4M225.6 80.2l6.6 6.6M225.6 86.8l6.6 -6.6M166.7 141.7h9.4M171.4 137.0v9.4M168.1 138.3l6.6 6.6M168.1 145.0l6.6 -6.6M202.3 71.1h9.4M207.0 66.4v9.4M203.7 67.8l6.6 6.6M203.7 74.4l6.6 -6.6M154.6 135.7h9.4M159.3 131.0v9.4M156.0 132.4l6.6 6.6M156.0 139.1l6.6 -6.6M154.4 142.7h9.4M159.1 138.0v9.4M155.8 139.3l6.6 6.6M155.8 146.0l6.6 -6.6M236.8 58.2h9.4M241.5 53.5v9.4M238.1 54.9l6.6 6.6M238.1 61.6l6.6 -6.6M156.8 141.4h9.4M161.5 136.7v9.4M158.2 138.1l6.6 6.6M158.2 144.7l6.6 -6.6M204.9 85.7h9.4M209.6 81.0v9.4M206.3 82.4l6.6 6.6M206.3 89.0l6.6 -6.6M192.4 110.0h9.4M197.1 105.3v9.4M193.8 106.6l6.6 6.6M193.8 113.3l6.6 -6.6M243.8 67.7h9.4M248.5 63.0v9.4M245.2 64.4l6.6 6.6M245.2 71.0l6.6 -6.6M216.6 67.3h9.4M221.3 62.6v9.4M218.0 64.0l6.6 6.6M218.0 70.6l6.6 -6.6M246.0 80.1h9.4M250.7 75.4v9.4M247.4 76.7l6.6 6.6M247.4 83.4l6.6 -6.6M197.0 128.6h9.4M201.7 123.9v9.4M198.4 125.3l6.6 6.6M198.4 132.0l6.6 -6.6M195.0 117.4h9.4M199.7 112.7v9.4M196.4 114.1l6.6 6.6M196.4 120.7l6.6 -6.6M202.8 101.2h9.4M207.5 96.5v9.4M204.2 97.9l6.6 6.6M204.2 104.5l6.6 -6.6M202.4 81.2h9.4M207.1 76.5v9.4M203.8 77.9l6.6 6.6M203.8 84.6l6.6 -6.6M203.0 104.2h9.4M207.7 99.5v9.4M204.4 100.9l6.6 6.6M204.4 107.6l6.6 -6.6M161.3 140.5h9.4M166.0 135.8v9.4M162.7 137.2l6.6 6.6M162.7 143.8l6.6 -6.6M111.0 189.6h9.4M115.7 184.9v9.4M112.4 186.3l6.6 6.6M112.4 192.9l6.6 -6.6M102.5 172.5h9.4M107.2 167.8v9.4M103.9 169.2l6.6 6.6M103.9 175.8l6.6 -6.6M111.9 173.0h9.4M116.6 168.3v9.4M113.3 169.7l6.6 6.6M113.3 176.3l6.6 -6.6M150.9 173.4h9.4M155.6 168.7v9.4M152.3 170.1l6.6 6.6M152.3 176.7l6.6 -6.6M178.6 163.7h9.4M183.3 159.0v9.4M180.0 160.4l6.6 6.6M180.0 167.0l6.6 -6.6M176.3 143.5h9.4M181.0 138.8v9.4M177.7 140.2l6.6 6.6M177.7 146.8l6.6 -6.6M283.1 36.4h9.4M287.8 31.7v9.4M284.5 33.1l6.6 6.6M284.5 39.7l6.6 -6.6M294.1 37.1h9.4M298.8 32.4v9.4M295.5 33.8l6.6 6.6M295.5 40.4l6.6 -6.6M311.1 45.0h9.4M315.8 40.3v9.4M312.5 41.7l6.6 6.6M312.5 48.3l6.6 -6.6M313.9 44.3h9.4M318.6 39.6v9.4M315.3 41.0l6.6 6.6M315.3 47.6l6.6 -6.6M270.3 43.4h9.4M275.0 38.7v9.4M271.7 40.1l6.6 6.6M271.7 46.7l6.6 -6.6M287.8 81.9h9.4M292.5 77.2v9.4M289.2 78.6l6.6 6.6M289.2 85.2l6.6 -6.6M278.4 69.1h9.4M283.1 64.4v9.4M279.8 65.8l6.6 6.6M279.8 72.4l6.6 -6.6M273.8 65.6h9.4M278.5 60.9v9.4M275.2 62.3l6.6 6.6M275.2 68.9l6.6 -6.6M255.1 86.6h9.4M259.8 81.9v9.4M256.5 83.3l6.6 6.6M256.5 89.9l6.6 -6.6M259.7 109.9h9.4M264.4 105.2v9.4M261.1 106.6l6.6 6.6M261.1 113.2l6.6 -6.6M252.7 116.7h9.4M257.4 112.0v9.4M254.1 113.4l6.6 6.6M254.1 120.0l6.6 -6.6M223.5 116.2h9.4M228.2 111.5v9.4M224.9 112.9l6.6 6.6M224.9 119.5l6.6 -6.6M223.5 125.6h9.4M228.2 120.9v9.4M224.9 122.3l6.6 6.6M224.9 128.9l6.6 -6.6M230.5 127.9h9.4M235.2 123.2v9.4M231.9 124.6l6.6 6.6M231.9 131.2l6.6 -6.6M206.0 137.2h9.4M210.7 132.5v9.4M207.4 133.9l6.6 6.6M207.4 140.5l6.6 -6.6M213.0 142.6h9.4M217.7 137.9v9.4M214.4 139.3l6.6 6.6M214.4 145.9l6.6 -6.6M219.6 148.9h9.4M224.3 144.2v9.4M221.0 145.6l6.6 6.6M221.0 152.2l6.6 -6.6M242.2 99.9h9.4M246.9 95.2v9.4M243.6 96.6l6.6 6.6M243.6 103.2l6.6 -6.6M229.3 108.0h9.4M234.0 103.3v9.4M230.7 104.7l6.6 6.6M230.7 111.3l6.6 -6.6M178.3 163.0h9.4M183.0 158.3v9.4M179.7 159.7l6.6 6.6M179.7 166.3l6.6 -6.6M206.3 137.4h9.4M211.0 132.7v9.4M207.7 134.1l6.6 6.6M207.7 140.7l6.6 -6.6M212.1 142.0h9.4M216.8 137.3v9.4M213.5 138.7l6.6 6.6M213.5 145.3l6.6 -6.6M220.3 148.0h9.4M225.0 143.3v9.4M221.7 144.7l6.6 6.6M221.7 151.3l6.6 -6.6M229.6 128.0h9.4M234.3 123.3v9.4M231.0 124.7l6.6 6.6M231.0 131.3l6.6 -6.6M222.6 123.4h9.4M227.3 118.7v9.4M224.0 120.1l6.6 6.6M224.0 126.7l6.6 -6.6M225.0 115.0h9.4M229.7 110.3v9.4M226.4 111.7l6.6 6.6M226.4 118.3l6.6 -6.6"/></g><line x1="112.6" y1="169.3" x2="318.1" y2="31.5" stroke="#006400" stroke-width="3"/><g fill="none" stroke="#00f" stroke-width="1.3"><circle cx="143.4" cy="154.2" r="4.45"/><circle cx="193.5" cy="87.5" r="4.45"/><circle cx="191.6" cy="126.9" r="4.45"/><circle cx="168.6" cy="135.7" r="4.45"/><circle cx="161.3" cy="140.4" r="4.45"/><circle cx="165.2" cy="140.7" r="4.45"/><circle cx="170.5" cy="112.1" r="4.45"/><circle cx="190.9" cy="97.8" r="4.45"/><circle cx="252.0" cy="68.1" r="4.45"/><circle cx="174.3" cy="106.8" r="4.45"/><circle cx="144.8" cy="157.2" r="4.45"/><circle cx="175.2" cy="124.5" r="4.45"/><circle cx="174.5" cy="125.5" r="4.45"/><circle cx="261.7" cy="62.1" r="4.45"/><circle cx="187.1" cy="106.8" r="4.45"/><circle cx="158.1" cy="132.5" r="4.45"/><circle cx="154.9" cy="153.4" r="4.45"/><circle cx="171.0" cy="143.1" r="4.45"/><circle cx="193.9" cy="102.4" r="4.45"/><circle cx="194.5" cy="123.0" r="4.45"/><circle cx="175.9" cy="128.2" r="4.45"/><circle cx="195.0" cy="94.8" r="4.45"/><circle cx="151.9" cy="149.0" r="4.45"/><circle cx="165.9" cy="138.0" r="4.45"/><circle cx="171.6" cy="115.9" r="4.45"/><circle cx="246.3" cy="60.1" r="4.45"/><circle cx="188.6" cy="114.7" r="4.45"/><circle cx="209.6" cy="117.2" r="4.45"/><circle cx="172.0" cy="119.7" r="4.45"/><circle cx="187.7" cy="118.9" r="4.45"/><circle cx="166.4" cy="149.6" r="4.45"/><circle cx="148.7" cy="149.8" r="4.45"/><circle cx="233.0" cy="86.9" r="4.45"/><circle cx="174.5" cy="133.9" r="4.45"/><circle cx="208.7" cy="109.6" r="4.45"/><circle cx="148.0" cy="127.1" r="4.45"/><circle cx="155.4" cy="138.7" r="4.45"/><circle cx="209.1" cy="73.0" r="4.45"/><circle cx="144.5" cy="139.7" r="4.45"/><circle cx="159.8" cy="137.0" r="4.45"/><circle cx="141.6" cy="136.2" r="4.45"/><circle cx="262.0" cy="75.4" r="4.45"/><circle cx="151.9" cy="136.7" r="4.45"/><circle cx="153.0" cy="144.4" r="4.45"/><circle cx="198.5" cy="96.2" r="4.45"/><circle cx="148.8" cy="155.9" r="4.45"/><circle cx="186.4" cy="127.5" r="4.45"/><circle cx="149.6" cy="151.5" r="4.45"/><circle cx="150.8" cy="154.1" r="4.45"/><circle cx="179.8" cy="121.8" r="4.45"/><circle cx="235.9" cy="74.2" r="4.45"/><circle cx="260.0" cy="53.3" r="4.45"/><circle cx="150.7" cy="149.0" r="4.45"/><circle cx="165.8" cy="112.9" r="4.45"/><circle cx="134.8" cy="151.6" r="4.45"/><circle cx="129.7" cy="147.3" r="4.45"/><circle cx="198.5" cy="86.0" r="4.45"/><circle cx="146.8" cy="135.6" r="4.45"/><circle cx="151.2" cy="143.4" r="4.45"/><circle cx="146.6" cy="152.6" r="4.45"/><circle cx="188.9" cy="117.0" r="4.45"/><circle cx="165.8" cy="142.2" r="4.45"/><circle cx="207.8" cy="87.7" r="4.45"/><circle cx="212.3" cy="65.4" r="4.45"/><circle cx="188.8" cy="120.8" r="4.45"/><circle cx="226.6" cy="62.2" r="4.45"/><circle cx="152.9" cy="140.0" r="4.45"/><circle cx="176.1" cy="136.8" r="4.45"/><circle cx="199.9" cy="114.6" r="4.45"/><circle cx="163.6" cy="139.7" r="4.45"/><circle cx="216.5" cy="109.7" r="4.45"/><circle cx="239.2" cy="85.1" r="4.45"/><circle cx="220.5" cy="73.9" r="4.45"/><circle cx="149.6" cy="138.1" r="4.45"/><circle cx="142.1" cy="135.1" r="4.45"/><circle cx="239.6" cy="82.7" r="4.45"/><circle cx="142.5" cy="138.7" r="4.45"/><circle cx="246.3" cy="71.8" r="4.45"/><circle cx="178.6" cy="140.4" r="4.45"/><circle cx="135.4" cy="137.9" r="4.45"/><circle cx="198.6" cy="83.2" r="4.45"/><circle cx="223.6" cy="75.5" r="4.45"/><circle cx="208.4" cy="72.9" r="4.45"/><circle cx="155.7" cy="148.1" r="4.45"/><circle cx="247.7" cy="71.1" r="4.45"/><circle cx="139.7" cy="141.5" r="4.45"/><circle cx="249.9" cy="71.6" r="4.45"/><circle cx="150.6" cy="129.0" r="4.45"/><circle cx="174.9" cy="138.2" r="4.45"/><circle cx="213.3" cy="78.5" r="4.45"/><circle cx="191.2" cy="123.3" r="4.45"/><circle cx="196.7" cy="92.6" r="4.45"/><circle cx="155.7" cy="142.9" r="4.45"/><circle cx="159.0" cy="129.7" r="4.45"/><circle cx="215.0" cy="84.2" r="4.45"/><circle cx="141.8" cy="144.3" r="4.45"/><circle cx="209.4" cy="68.0" r="4.45"/><circle cx="168.5" cy="154.0" r="4.45"/><circle cx="177.7" cy="127.6" r="4.45"/><circle cx="224.5" cy="100.6" r="4.45"/><circle cx="212.3" cy="87.2" r="4.45"/><circle cx="162.4" cy="144.3" r="4.45"/><circle cx="140.1" cy="137.2" r="4.45"/><circle cx="164.8" cy="139.1" r="4.45"/><circle cx="194.4" cy="129.9" r="4.45"/><circle cx="145.8" cy="135.5" r="4.45"/><circle cx="139.5" cy="142.7" r="4.45"/><circle cx="163.1" cy="161.0" r="4.45"/><circle cx="203.6" cy="96.4" r="4.45"/><circle cx="210.4" cy="109.6" r="4.45"/><circle cx="164.2" cy="131.6" r="4.45"/><circle cx="159.0" cy="155.5" r="4.45"/><circle cx="242.8" cy="68.5" r="4.45"/><circle cx="167.4" cy="127.7" r="4.45"/><circle cx="191.4" cy="88.5" r="4.45"/><circle cx="190.8" cy="109.5" r="4.45"/><circle cx="221.5" cy="76.8" r="4.45"/><circle cx="207.8" cy="95.7" r="4.45"/><circle cx="148.8" cy="139.2" r="4.45"/><circle cx="192.1" cy="99.6" r="4.45"/><circle cx="140.5" cy="141.6" r="4.45"/><circle cx="159.7" cy="126.9" r="4.45"/><circle cx="234.8" cy="59.7" r="4.45"/><circle cx="221.6" cy="95.3" r="4.45"/><circle cx="151.2" cy="153.1" r="4.45"/><circle cx="164.6" cy="152.8" r="4.45"/><circle cx="240.5" cy="59.3" r="4.45"/><circle cx="182.0" cy="117.3" r="4.45"/><circle cx="190.2" cy="101.8" r="4.45"/><circle cx="177.4" cy="111.3" r="4.45"/><circle cx="218.1" cy="68.8" r="4.45"/><circle cx="159.2" cy="155.4" r="4.45"/><circle cx="201.7" cy="96.5" r="4.45"/><circle cx="167.0" cy="150.8" r="4.45"/><circle cx="190.5" cy="117.5" r="4.45"/><circle cx="218.0" cy="108.7" r="4.45"/><circle cx="213.8" cy="89.8" r="4.45"/><circle cx="150.9" cy="153.4" r="4.45"/><circle cx="256.7" cy="58.7" r="4.45"/><circle cx="155.0" cy="155.8" r="4.45"/><circle cx="153.4" cy="136.0" r="4.45"/><circle cx="179.7" cy="136.7" r="4.45"/><circle cx="209.9" cy="105.3" r="4.45"/><circle cx="248.9" cy="77.8" r="4.45"/><circle cx="154.6" cy="128.7" r="4.45"/><circle cx="227.6" cy="83.6" r="4.45"/><circle cx="264.1" cy="67.4" r="4.45"/><circle cx="152.2" cy="152.6" r="4.45"/><circle cx="186.5" cy="126.9" r="4.45"/><circle cx="222.1" cy="60.8" r="4.45"/><circle cx="151.5" cy="150.1" r="4.45"/><circle cx="198.5" cy="108.8" r="4.45"/><circle cx="164.8" cy="141.3" r="4.45"/><circle cx="154.9" cy="143.3" r="4.45"/><circle cx="227.2" cy="96.0" r="4.45"/><circle cx="239.3" cy="66.7" r="4.45"/><circle cx="241.0" cy="69.5" r="4.45"/><circle cx="195.7" cy="109.7" r="4.45"/><circle cx="248.1" cy="81.9" r="4.45"/><circle cx="215.9" cy="103.9" r="4.45"/><circle cx="204.3" cy="80.7" r="4.45"/><circle cx="150.9" cy="138.3" r="4.45"/><circle cx="222.5" cy="63.4" r="4.45"/><circle cx="255.5" cy="71.5" r="4.45"/><circle cx="234.7" cy="70.8" r="4.45"/><circle cx="193.3" cy="91.9" r="4.45"/><circle cx="150.5" cy="133.5" r="4.45"/><circle cx="254.3" cy="70.8" r="4.45"/><circle cx="152.7" cy="142.3" r="4.45"/><circle cx="175.6" cy="119.3" r="4.45"/><circle cx="261.5" cy="56.3" r="4.45"/><circle cx="190.4" cy="80.0" r="4.45"/><circle cx="154.1" cy="135.7" r="4.45"/><circle cx="205.5" cy="81.6" r="4.45"/><circle cx="138.2" cy="143.7" r="4.45"/><circle cx="165.3" cy="112.1" r="4.45"/><circle cx="192.3" cy="120.3" r="4.45"/><circle cx="171.9" cy="124.2" r="4.45"/><circle cx="235.8" cy="92.6" r="4.45"/><circle cx="170.0" cy="145.1" r="4.45"/><circle cx="206.2" cy="86.2" r="4.45"/><circle cx="266.8" cy="63.8" r="4.45"/><circle cx="181.0" cy="114.9" r="4.45"/><circle cx="236.5" cy="63.2" r="4.45"/><circle cx="178.8" cy="137.1" r="4.45"/><circle cx="156.9" cy="138.2" r="4.45"/><circle cx="174.3" cy="118.1" r="4.45"/><circle cx="224.3" cy="69.4" r="4.45"/><circle cx="140.9" cy="145.7" r="4.45"/><circle cx="202.9" cy="114.0" r="4.45"/><circle cx="232.5" cy="76.0" r="4.45"/><circle cx="173.6" cy="131.6" r="4.45"/><circle cx="193.7" cy="107.9" r="4.45"/><circle cx="254.0" cy="67.9" r="4.45"/><circle cx="206.2" cy="101.4" r="4.45"/><circle cx="138.1" cy="139.7" r="4.45"/><circle cx="168.3" cy="143.4" r="4.45"/><circle cx="155.0" cy="142.6" r="4.45"/><circle cx="223.5" cy="76.3" r="4.45"/><circle cx="158.4" cy="149.3" r="4.45"/><circle cx="160.9" cy="131.2" r="4.45"/><circle cx="238.8" cy="71.5" r="4.45"/><circle cx="161.7" cy="144.8" r="4.45"/><circle cx="228.9" cy="97.5" r="4.45"/><circle cx="196.5" cy="96.5" r="4.45"/><circle cx="199.4" cy="99.3" r="4.45"/><circle cx="199.2" cy="122.5" r="4.45"/><circle cx="242.6" cy="79.5" r="4.45"/><circle cx="237.3" cy="79.5" r="4.45"/><circle cx="180.4" cy="116.1" r="4.45"/><circle cx="168.7" cy="127.8" r="4.45"/><circle cx="199.6" cy="95.2" r="4.45"/><circle cx="172.8" cy="125.0" r="4.45"/><circle cx="175.4" cy="108.1" r="4.45"/><circle cx="136.8" cy="154.7" r="4.45"/><circle cx="241.7" cy="60.4" r="4.45"/><circle cx="225.6" cy="87.7" r="4.45"/><circle cx="215.6" cy="73.6" r="4.45"/><circle cx="146.9" cy="152.1" r="4.45"/><circle cx="145.3" cy="131.5" r="4.45"/><circle cx="244.1" cy="69.2" r="4.45"/><circle cx="224.8" cy="69.0" r="4.45"/><circle cx="209.6" cy="74.4" r="4.45"/><circle cx="140.3" cy="147.7" r="4.45"/><circle cx="171.3" cy="124.1" r="4.45"/><circle cx="238.7" cy="63.9" r="4.45"/><circle cx="152.6" cy="134.2" r="4.45"/><circle cx="194.0" cy="97.9" r="4.45"/><circle cx="157.5" cy="128.5" r="4.45"/><circle cx="191.3" cy="93.2" r="4.45"/><circle cx="176.1" cy="144.9" r="4.45"/><circle cx="263.8" cy="73.9" r="4.45"/><circle cx="156.8" cy="153.9" r="4.45"/><circle cx="181.3" cy="112.4" r="4.45"/><circle cx="159.0" cy="129.8" r="4.45"/><circle cx="189.1" cy="122.0" r="4.45"/><circle cx="154.2" cy="153.7" r="4.45"/><circle cx="148.2" cy="137.1" r="4.45"/><circle cx="166.1" cy="122.9" r="4.45"/><circle cx="181.9" cy="120.8" r="4.45"/><circle cx="211.1" cy="113.5" r="4.45"/><circle cx="132.2" cy="139.2" r="4.45"/><circle cx="176.0" cy="138.5" r="4.45"/><circle cx="240.4" cy="55.2" r="4.45"/><circle cx="149.0" cy="130.4" r="4.45"/><circle cx="244.0" cy="70.2" r="4.45"/><circle cx="242.5" cy="58.8" r="4.45"/><circle cx="164.2" cy="135.3" r="4.45"/><circle cx="211.6" cy="69.1" r="4.45"/><circle cx="187.4" cy="113.3" r="4.45"/><circle cx="151.7" cy="136.2" r="4.45"/><circle cx="242.1" cy="73.0" r="4.45"/><circle cx="206.9" cy="80.0" r="4.45"/><circle cx="209.4" cy="115.9" r="4.45"/><circle cx="193.7" cy="104.9" r="4.45"/><circle cx="166.5" cy="125.6" r="4.45"/><circle cx="234.3" cy="84.5" r="4.45"/><circle cx="237.3" cy="54.4" r="4.45"/><circle cx="155.3" cy="144.7" r="4.45"/><circle cx="139.1" cy="148.3" r="4.45"/><circle cx="166.7" cy="142.4" r="4.45"/><circle cx="213.9" cy="122.8" r="4.45"/><circle cx="151.0" cy="128.8" r="4.45"/><circle cx="172.2" cy="124.5" r="4.45"/><circle cx="167.6" cy="125.8" r="4.45"/><circle cx="211.2" cy="73.5" r="4.45"/><circle cx="176.0" cy="124.5" r="4.45"/><circle cx="166.8" cy="140.9" r="4.45"/><circle cx="165.8" cy="150.6" r="4.45"/><circle cx="202.2" cy="101.8" r="4.45"/><circle cx="216.1" cy="79.4" r="4.45"/><circle cx="156.7" cy="147.8" r="4.45"/><circle cx="158.1" cy="130.2" r="4.45"/><circle cx="211.3" cy="67.9" r="4.45"/><circle cx="156.0" cy="159.5" r="4.45"/><circle cx="172.5" cy="144.4" r="4.45"/><circle cx="146.5" cy="137.1" r="4.45"/><circle cx="188.2" cy="123.1" r="4.45"/><circle cx="178.9" cy="125.0" r="4.45"/><circle cx="181.5" cy="115.0" r="4.45"/><circle cx="201.8" cy="79.6" r="4.45"/><circle cx="136.8" cy="138.2" r="4.45"/><circle cx="208.1" cy="93.3" r="4.45"/><circle cx="159.2" cy="133.2" r="4.45"/><circle cx="134.2" cy="139.1" r="4.45"/><circle cx="115.7" cy="189.6" r="4.45"/><circle cx="114.3" cy="172.5" r="4.45"/><circle cx="116.6" cy="173.0" r="4.45"/><circle cx="123.4" cy="176.9" r="4.45"/><circle cx="155.6" cy="173.4" r="4.45"/><circle cx="171.7" cy="163.7" r="4.45"/><circle cx="156.5" cy="164.6" r="4.45"/><circle cx="146.8" cy="163.7" r="4.45"/><circle cx="163.5" cy="159.3" r="4.45"/><circle cx="256.3" cy="37.1" r="4.45"/><circle cx="264.9" cy="43.4" r="4.45"/><circle cx="276.6" cy="37.1" r="4.45"/><circle cx="279.2" cy="36.4" r="4.45"/><circle cx="301.1" cy="45.7" r="4.45"/><circle cx="226.6" cy="55.0" r="4.45"/><circle cx="206.5" cy="63.9" r="4.45"/><circle cx="202.5" cy="73.7" r="4.45"/><circle cx="265.6" cy="81.9" r="4.45"/><circle cx="269.1" cy="81.9" r="4.45"/><circle cx="272.6" cy="81.9" r="4.45"/><circle cx="276.6" cy="81.9" r="4.45"/><circle cx="250.4" cy="87.3" r="4.45"/><circle cx="255.8" cy="109.9" r="4.45"/><circle cx="250.4" cy="116.7" r="4.45"/><circle cx="206.0" cy="142.6" r="4.45"/><circle cx="212.6" cy="126.7" r="4.45"/><circle cx="197.1" cy="128.6" r="4.45"/><circle cx="217.2" cy="116.9" r="4.45"/><circle cx="49.5" cy="81.8" r="4.45"/><circle cx="49.5" cy="87.8" r="4.45"/><circle cx="49.5" cy="110.1" r="4.45"/><circle cx="49.5" cy="125.0" r="4.45"/><circle cx="49.5" cy="130.3" r="4.45"/><circle cx="49.5" cy="142.2" r="4.45"/><circle cx="49.5" cy="143.7" r="4.45"/><circle cx="62.9" cy="44.5" r="4.45"/></g><line x1="49.5" y1="183.6" x2="301.2" y2="50.5" stroke="#00008b" stroke-width="3"/><path d="M49.5 19.5V233.5H343.0M49.5 233.5h3.6M49.5 197.8h3.6M49.5 162.2h3.6M49.5 126.5h3.6M49.5 90.8h3.6M49.5 55.2h3.6M49.5 19.5h3.6M49.5 233.5v-3.6M122.9 233.5v-3.6M196.2 233.5v-3.6M269.6 233.5v-3.6M343.0 233.5v-3.6" fill="none" stroke="#3a3a3a" stroke-width="1"/><g font-size="14.4" fill="#262626"><g text-anchor="end"><text x="43.4" y="239.1">0</text><text x="43.4" y="203.4">50</text><text x="43.4" y="167.8">100</text><text x="43.4" y="132.1">150</text><text x="43.4" y="96.4">200</text><text x="43.4" y="60.8">250</text><text x="43.4" y="25.1">300</text></g><g text-anchor="middle"><text x="49.0" y="253.5">0</text><text x="122.4" y="253.5">2</text><text x="195.8" y="253.5">4</text><text x="269.1" y="253.5">6</text><text x="342.5" y="253.5">8</text></g></g><g fill="#f00"><circle cx="485.4" cy="65.5" r="1.65"/><circle cx="492.2" cy="89.2" r="1.65"/><circle cx="455.3" cy="118.9" r="1.65"/><circle cx="485.8" cy="94.1" r="1.65"/><circle cx="463.1" cy="145.6" r="1.65"/><circle cx="465.7" cy="96.9" r="1.65"/><circle cx="455.8" cy="109.4" r="1.65"/><circle cx="513.2" cy="83.3" r="1.65"/><circle cx="500.7" cy="86.1" r="1.65"/><circle cx="490.1" cy="91.1" r="1.65"/><circle cx="466.0" cy="117.5" r="1.65"/><circle cx="440.7" cy="138.6" r="1.65"/><circle cx="465.5" cy="97.1" r="1.65"/><circle cx="456.7" cy="132.9" r="1.65"/><circle cx="483.3" cy="72.7" r="1.65"/><circle cx="508.0" cy="83.8" r="1.65"/><circle cx="506.9" cy="46.6" r="1.65"/><circle cx="478.0" cy="81.8" r="1.65"/><circle cx="474.7" cy="109.9" r="1.65"/><circle cx="454.0" cy="125.1" r="1.65"/><circle cx="468.3" cy="98.5" r="1.65"/><circle cx="469.4" cy="119.1" r="1.65"/><circle cx="489.3" cy="94.1" r="1.65"/><circle cx="451.6" cy="153.5" r="1.65"/><circle cx="468.9" cy="116.2" r="1.65"/><circle cx="491.1" cy="81.5" r="1.65"/><circle cx="456.3" cy="120.7" r="1.65"/><circle cx="442.9" cy="153.0" r="1.65"/><circle cx="469.3" cy="104.1" r="1.65"/><circle cx="475.9" cy="82.8" r="1.65"/><circle cx="453.3" cy="148.1" r="1.65"/><circle cx="467.4" cy="117.5" r="1.65"/><circle cx="462.5" cy="145.9" r="1.65"/><circle cx="460.5" cy="108.3" r="1.65"/><circle cx="476.6" cy="84.7" r="1.65"/><circle cx="516.5" cy="63.5" r="1.65"/><circle cx="488.0" cy="56.9" r="1.65"/><circle cx="461.1" cy="115.7" r="1.65"/><circle cx="488.8" cy="99.3" r="1.65"/><circle cx="500.6" cy="89.8" r="1.65"/><circle cx="472.3" cy="86.1" r="1.65"/><circle cx="473.4" cy="95.7" r="1.65"/><circle cx="490.3" cy="96.9" r="1.65"/><circle cx="479.8" cy="98.4" r="1.65"/><circle cx="475.3" cy="124.5" r="1.65"/><circle cx="495.8" cy="81.6" r="1.65"/><circle cx="483.9" cy="111.4" r="1.65"/><circle cx="482.5" cy="115.8" r="1.65"/><circle cx="456.8" cy="137.9" r="1.65"/><circle cx="470.8" cy="77.6" r="1.65"/><circle cx="475.7" cy="86.8" r="1.65"/><circle cx="460.7" cy="143.7" r="1.65"/><circle cx="502.3" cy="77.4" r="1.65"/><circle cx="465.6" cy="90.9" r="1.65"/><circle cx="456.2" cy="127.6" r="1.65"/><circle cx="488.1" cy="77.5" r="1.65"/><circle cx="427.8" cy="161.0" r="1.65"/><circle cx="441.1" cy="158.8" r="1.65"/><circle cx="491.9" cy="65.4" r="1.65"/><circle cx="435.6" cy="152.2" r="1.65"/><circle cx="462.1" cy="96.2" r="1.65"/><circle cx="438.8" cy="164.9" r="1.65"/><circle cx="524.3" cy="40.4" r="1.65"/><circle cx="508.6" cy="76.3" r="1.65"/><circle cx="435.1" cy="168.0" r="1.65"/><circle cx="468.8" cy="119.4" r="1.65"/><circle cx="491.3" cy="93.1" r="1.65"/><circle cx="505.2" cy="74.6" r="1.65"/><circle cx="489.3" cy="107.4" r="1.65"/><circle cx="512.6" cy="51.2" r="1.65"/><circle cx="434.4" cy="152.3" r="1.65"/><circle cx="499.2" cy="56.5" r="1.65"/><circle cx="508.6" cy="76.9" r="1.65"/><circle cx="508.7" cy="82.4" r="1.65"/><circle cx="501.8" cy="89.5" r="1.65"/><circle cx="480.8" cy="119.0" r="1.65"/><circle cx="459.1" cy="125.4" r="1.65"/><circle cx="475.5" cy="101.6" r="1.65"/><circle cx="449.8" cy="124.6" r="1.65"/><circle cx="455.6" cy="122.7" r="1.65"/><circle cx="439.0" cy="154.0" r="1.65"/><circle cx="473.5" cy="104.7" r="1.65"/><circle cx="500.6" cy="89.5" r="1.65"/><circle cx="473.8" cy="106.5" r="1.65"/><circle cx="455.1" cy="113.0" r="1.65"/><circle cx="475.1" cy="94.6" r="1.65"/><circle cx="437.0" cy="141.6" r="1.65"/><circle cx="445.3" cy="161.4" r="1.65"/><circle cx="468.5" cy="125.0" r="1.65"/><circle cx="452.0" cy="138.0" r="1.65"/><circle cx="485.7" cy="98.2" r="1.65"/><circle cx="485.5" cy="74.6" r="1.65"/><circle cx="487.5" cy="72.4" r="1.65"/><circle cx="443.3" cy="160.5" r="1.65"/><circle cx="478.0" cy="62.2" r="1.65"/><circle cx="513.3" cy="71.5" r="1.65"/><circle cx="472.5" cy="93.6" r="1.65"/><circle cx="458.4" cy="125.5" r="1.65"/><circle cx="461.2" cy="129.3" r="1.65"/><circle cx="446.1" cy="148.4" r="1.65"/><circle cx="504.0" cy="80.3" r="1.65"/><circle cx="466.6" cy="105.7" r="1.65"/><circle cx="450.1" cy="122.8" r="1.65"/><circle cx="462.2" cy="116.2" r="1.65"/><circle cx="475.5" cy="123.8" r="1.65"/><circle cx="464.5" cy="136.0" r="1.65"/><circle cx="455.3" cy="126.3" r="1.65"/><circle cx="427.3" cy="165.7" r="1.65"/><circle cx="464.3" cy="122.1" r="1.65"/><circle cx="447.7" cy="129.2" r="1.65"/><circle cx="500.3" cy="67.6" r="1.65"/><circle cx="485.6" cy="60.8" r="1.65"/><circle cx="473.4" cy="100.5" r="1.65"/><circle cx="456.5" cy="125.8" r="1.65"/><circle cx="498.4" cy="74.5" r="1.65"/><circle cx="496.0" cy="78.1" r="1.65"/><circle cx="455.2" cy="147.2" r="1.65"/><circle cx="442.0" cy="163.7" r="1.65"/><circle cx="501.5" cy="80.1" r="1.65"/><circle cx="478.7" cy="80.7" r="1.65"/><circle cx="470.4" cy="111.5" r="1.65"/><circle cx="508.0" cy="57.9" r="1.65"/><circle cx="468.2" cy="110.7" r="1.65"/><circle cx="483.8" cy="113.3" r="1.65"/><circle cx="496.8" cy="93.4" r="1.65"/><circle cx="461.5" cy="102.8" r="1.65"/><circle cx="479.5" cy="107.0" r="1.65"/><circle cx="464.9" cy="127.6" r="1.65"/><circle cx="469.3" cy="122.9" r="1.65"/><circle cx="440.9" cy="142.4" r="1.65"/><circle cx="464.8" cy="103.9" r="1.65"/><circle cx="494.3" cy="76.0" r="1.65"/><circle cx="442.9" cy="147.4" r="1.65"/><circle cx="452.6" cy="123.0" r="1.65"/><circle cx="478.8" cy="97.7" r="1.65"/><circle cx="491.0" cy="86.5" r="1.65"/><circle cx="465.0" cy="142.3" r="1.65"/><circle cx="446.8" cy="140.7" r="1.65"/><circle cx="471.7" cy="84.3" r="1.65"/><circle cx="455.9" cy="114.2" r="1.65"/><circle cx="481.8" cy="106.1" r="1.65"/><circle cx="448.7" cy="148.6" r="1.65"/><circle cx="452.1" cy="119.3" r="1.65"/><circle cx="467.3" cy="98.9" r="1.65"/><circle cx="437.5" cy="136.9" r="1.65"/><circle cx="498.5" cy="70.0" r="1.65"/><circle cx="511.3" cy="76.4" r="1.65"/><circle cx="486.5" cy="80.9" r="1.65"/><circle cx="472.3" cy="97.2" r="1.65"/><circle cx="472.0" cy="119.7" r="1.65"/><circle cx="458.5" cy="104.7" r="1.65"/><circle cx="450.5" cy="120.9" r="1.65"/><circle cx="452.7" cy="110.4" r="1.65"/><circle cx="466.2" cy="117.5" r="1.65"/><circle cx="488.1" cy="69.5" r="1.65"/><circle cx="462.2" cy="89.0" r="1.65"/><circle cx="478.7" cy="118.8" r="1.65"/><circle cx="447.6" cy="131.9" r="1.65"/><circle cx="451.1" cy="143.2" r="1.65"/><circle cx="469.8" cy="101.3" r="1.65"/><circle cx="470.1" cy="123.2" r="1.65"/><circle cx="456.5" cy="109.4" r="1.65"/><circle cx="473.8" cy="113.3" r="1.65"/><circle cx="448.0" cy="120.1" r="1.65"/><circle cx="474.4" cy="116.1" r="1.65"/><circle cx="506.7" cy="52.6" r="1.65"/><circle cx="461.9" cy="112.6" r="1.65"/><circle cx="490.6" cy="90.3" r="1.65"/><circle cx="469.6" cy="129.6" r="1.65"/><circle cx="473.7" cy="106.4" r="1.65"/><circle cx="475.2" cy="86.1" r="1.65"/><circle cx="448.3" cy="138.5" r="1.65"/><circle cx="483.5" cy="88.6" r="1.65"/><circle cx="442.0" cy="152.7" r="1.65"/><circle cx="493.4" cy="71.5" r="1.65"/><circle cx="433.2" cy="160.6" r="1.65"/><circle cx="491.0" cy="97.1" r="1.65"/><circle cx="489.3" cy="90.7" r="1.65"/><circle cx="447.0" cy="148.8" r="1.65"/><circle cx="471.1" cy="92.9" r="1.65"/><circle cx="447.8" cy="145.9" r="1.65"/><circle cx="440.7" cy="147.4" r="1.65"/><circle cx="482.7" cy="105.1" r="1.65"/><circle cx="455.4" cy="135.6" r="1.65"/><circle cx="487.8" cy="104.8" r="1.65"/><circle cx="462.3" cy="132.0" r="1.65"/><circle cx="504.3" cy="51.3" r="1.65"/><circle cx="462.2" cy="118.7" r="1.65"/><circle cx="508.6" cy="82.7" r="1.65"/><circle cx="486.0" cy="90.7" r="1.65"/><circle cx="454.0" cy="111.6" r="1.65"/><circle cx="513.0" cy="72.2" r="1.65"/><circle cx="472.4" cy="107.7" r="1.65"/><circle cx="455.0" cy="154.8" r="1.65"/><circle cx="441.3" cy="142.6" r="1.65"/><circle cx="442.4" cy="123.3" r="1.65"/><circle cx="467.5" cy="93.6" r="1.65"/><circle cx="478.5" cy="114.0" r="1.65"/><circle cx="481.3" cy="115.2" r="1.65"/><circle cx="488.2" cy="97.3" r="1.65"/><circle cx="465.7" cy="96.3" r="1.65"/><circle cx="488.0" cy="75.9" r="1.65"/><circle cx="503.0" cy="49.7" r="1.65"/><circle cx="450.1" cy="150.7" r="1.65"/><circle cx="477.0" cy="90.3" r="1.65"/><circle cx="469.0" cy="98.5" r="1.65"/><circle cx="514.7" cy="57.6" r="1.65"/><circle cx="449.1" cy="155.7" r="1.65"/><circle cx="428.8" cy="149.8" r="1.65"/><circle cx="454.1" cy="111.5" r="1.65"/><circle cx="467.5" cy="118.1" r="1.65"/><circle cx="481.6" cy="66.3" r="1.65"/><circle cx="436.2" cy="139.9" r="1.65"/><circle cx="473.1" cy="104.0" r="1.65"/><circle cx="448.7" cy="158.6" r="1.65"/><circle cx="508.6" cy="87.6" r="1.65"/><circle cx="453.1" cy="110.2" r="1.65"/><circle cx="486.4" cy="89.1" r="1.65"/><circle cx="439.4" cy="154.5" r="1.65"/><circle cx="468.5" cy="117.6" r="1.65"/><circle cx="441.2" cy="151.7" r="1.65"/><circle cx="467.1" cy="105.5" r="1.65"/><circle cx="490.0" cy="65.3" r="1.65"/><circle cx="449.3" cy="116.5" r="1.65"/><circle cx="478.5" cy="101.0" r="1.65"/><circle cx="465.3" cy="108.4" r="1.65"/><circle cx="454.4" cy="121.6" r="1.65"/><circle cx="462.7" cy="93.5" r="1.65"/><circle cx="511.7" cy="49.4" r="1.65"/><circle cx="477.2" cy="108.0" r="1.65"/><circle cx="485.8" cy="102.5" r="1.65"/><circle cx="452.1" cy="121.5" r="1.65"/><circle cx="449.3" cy="126.2" r="1.65"/><circle cx="459.0" cy="143.5" r="1.65"/><circle cx="480.0" cy="102.7" r="1.65"/><circle cx="456.5" cy="114.1" r="1.65"/><circle cx="461.7" cy="108.8" r="1.65"/><circle cx="468.0" cy="113.9" r="1.65"/><circle cx="459.9" cy="130.7" r="1.65"/><circle cx="488.1" cy="97.0" r="1.65"/><circle cx="516.8" cy="53.3" r="1.65"/><circle cx="461.6" cy="124.3" r="1.65"/><circle cx="516.1" cy="48.0" r="1.65"/><circle cx="467.5" cy="130.7" r="1.65"/><circle cx="481.5" cy="107.4" r="1.65"/><circle cx="489.0" cy="82.0" r="1.65"/><circle cx="453.2" cy="135.8" r="1.65"/><circle cx="445.9" cy="143.8" r="1.65"/><circle cx="482.7" cy="76.1" r="1.65"/><circle cx="458.9" cy="136.5" r="1.65"/><circle cx="502.1" cy="53.3" r="1.65"/><circle cx="447.7" cy="160.2" r="1.65"/><circle cx="458.2" cy="136.7" r="1.65"/><circle cx="470.3" cy="98.0" r="1.65"/><circle cx="439.2" cy="145.5" r="1.65"/><circle cx="443.4" cy="134.2" r="1.65"/><circle cx="506.5" cy="58.1" r="1.65"/><circle cx="454.3" cy="155.4" r="1.65"/><circle cx="509.7" cy="81.3" r="1.65"/><circle cx="433.3" cy="153.7" r="1.65"/><circle cx="459.4" cy="133.0" r="1.65"/><circle cx="462.6" cy="92.8" r="1.65"/><circle cx="460.7" cy="104.1" r="1.65"/><circle cx="444.1" cy="154.1" r="1.65"/><circle cx="432.8" cy="155.3" r="1.65"/><circle cx="487.0" cy="75.8" r="1.65"/><circle cx="491.1" cy="83.0" r="1.65"/><circle cx="477.1" cy="68.7" r="1.65"/><circle cx="463.2" cy="105.2" r="1.65"/><circle cx="435.6" cy="168.1" r="1.65"/><circle cx="482.3" cy="89.1" r="1.65"/><circle cx="470.3" cy="86.4" r="1.65"/><circle cx="511.1" cy="60.5" r="1.65"/><circle cx="477.0" cy="70.3" r="1.65"/><circle cx="457.9" cy="146.3" r="1.65"/><circle cx="491.8" cy="99.6" r="1.65"/><circle cx="445.6" cy="133.9" r="1.65"/><circle cx="445.8" cy="133.1" r="1.65"/><circle cx="466.9" cy="85.8" r="1.65"/><circle cx="477.1" cy="63.6" r="1.65"/><circle cx="497.3" cy="65.3" r="1.65"/><circle cx="491.5" cy="95.9" r="1.65"/><circle cx="478.9" cy="88.7" r="1.65"/><circle cx="501.6" cy="73.4" r="1.65"/><circle cx="475.5" cy="90.9" r="1.65"/><circle cx="466.4" cy="112.9" r="1.65"/><circle cx="466.7" cy="104.6" r="1.65"/><circle cx="430.0" cy="162.0" r="1.65"/><circle cx="451.6" cy="156.1" r="1.65"/><circle cx="459.6" cy="146.8" r="1.65"/><circle cx="444.3" cy="127.0" r="1.65"/><circle cx="459.4" cy="101.4" r="1.65"/><circle cx="472.7" cy="93.3" r="1.65"/><circle cx="482.8" cy="98.4" r="1.65"/><circle cx="495.5" cy="76.3" r="1.65"/><circle cx="470.2" cy="125.0" r="1.65"/><circle cx="455.5" cy="155.9" r="1.65"/><circle cx="507.2" cy="40.1" r="1.65"/><circle cx="462.4" cy="96.3" r="1.65"/><circle cx="465.6" cy="99.5" r="1.65"/><circle cx="511.5" cy="64.8" r="1.65"/><circle cx="469.1" cy="120.3" r="1.65"/><circle cx="462.9" cy="144.7" r="1.65"/><circle cx="458.9" cy="95.6" r="1.65"/><circle cx="430.2" cy="169.5" r="1.65"/><circle cx="466.6" cy="115.4" r="1.65"/><circle cx="486.9" cy="81.8" r="1.65"/><circle cx="476.3" cy="114.1" r="1.65"/><circle cx="431.1" cy="163.8" r="1.65"/><circle cx="513.8" cy="71.4" r="1.65"/><circle cx="461.9" cy="106.9" r="1.65"/><circle cx="466.9" cy="86.1" r="1.65"/><circle cx="507.2" cy="86.6" r="1.65"/><circle cx="438.8" cy="167.4" r="1.65"/><circle cx="478.4" cy="85.4" r="1.65"/><circle cx="491.6" cy="72.9" r="1.65"/><circle cx="442.0" cy="139.6" r="1.65"/><circle cx="450.5" cy="154.6" r="1.65"/><circle cx="504.6" cy="69.5" r="1.65"/><circle cx="504.3" cy="82.5" r="1.65"/><circle cx="443.7" cy="149.6" r="1.65"/><circle cx="450.6" cy="158.0" r="1.65"/><circle cx="475.7" cy="74.9" r="1.65"/><circle cx="440.4" cy="140.2" r="1.65"/><circle cx="429.9" cy="162.4" r="1.65"/><circle cx="476.9" cy="104.3" r="1.65"/><circle cx="461.7" cy="100.0" r="1.65"/><circle cx="474.9" cy="127.4" r="1.65"/><circle cx="497.8" cy="74.5" r="1.65"/><circle cx="474.9" cy="87.8" r="1.65"/><circle cx="486.3" cy="86.2" r="1.65"/><circle cx="502.0" cy="89.8" r="1.65"/><circle cx="446.8" cy="127.8" r="1.65"/><circle cx="489.1" cy="73.7" r="1.65"/><circle cx="493.7" cy="66.8" r="1.65"/><circle cx="452.3" cy="130.6" r="1.65"/><circle cx="462.5" cy="101.1" r="1.65"/><circle cx="435.6" cy="169.3" r="1.65"/><circle cx="477.5" cy="111.0" r="1.65"/><circle cx="478.2" cy="69.8" r="1.65"/><circle cx="454.9" cy="114.6" r="1.65"/><circle cx="476.6" cy="103.6" r="1.65"/><circle cx="505.1" cy="74.1" r="1.65"/><circle cx="433.9" cy="146.9" r="1.65"/><circle cx="498.4" cy="91.8" r="1.65"/><circle cx="467.4" cy="94.5" r="1.65"/><circle cx="482.3" cy="96.0" r="1.65"/><circle cx="473.0" cy="95.0" r="1.65"/><circle cx="472.4" cy="102.7" r="1.65"/><circle cx="481.2" cy="109.5" r="1.65"/><circle cx="500.8" cy="37.7" r="1.65"/><circle cx="439.8" cy="152.0" r="1.65"/><circle cx="505.9" cy="74.2" r="1.65"/><circle cx="445.4" cy="139.2" r="1.65"/><circle cx="482.3" cy="62.5" r="1.65"/><circle cx="429.0" cy="157.7" r="1.65"/><circle cx="477.1" cy="112.8" r="1.65"/><circle cx="495.0" cy="79.5" r="1.65"/><circle cx="448.6" cy="131.0" r="1.65"/><circle cx="478.7" cy="120.1" r="1.65"/><circle cx="461.2" cy="95.3" r="1.65"/><circle cx="445.9" cy="155.8" r="1.65"/><circle cx="476.2" cy="101.8" r="1.65"/><circle cx="445.8" cy="136.6" r="1.65"/><circle cx="470.2" cy="84.0" r="1.65"/><circle cx="485.8" cy="98.8" r="1.65"/><circle cx="487.9" cy="91.5" r="1.65"/><circle cx="481.9" cy="79.2" r="1.65"/><circle cx="509.3" cy="79.6" r="1.65"/><circle cx="445.7" cy="152.4" r="1.65"/><circle cx="467.6" cy="99.5" r="1.65"/><circle cx="487.8" cy="77.1" r="1.65"/><circle cx="503.2" cy="87.6" r="1.65"/><circle cx="445.2" cy="145.6" r="1.65"/><circle cx="502.8" cy="45.0" r="1.65"/><circle cx="467.7" cy="94.5" r="1.65"/><circle cx="448.9" cy="127.7" r="1.65"/><circle cx="492.6" cy="70.1" r="1.65"/><circle cx="459.5" cy="144.4" r="1.65"/><circle cx="458.6" cy="130.0" r="1.65"/><circle cx="422.8" cy="188.1" r="1.65"/><circle cx="424.4" cy="172.2" r="1.65"/><circle cx="429.0" cy="175.7" r="1.65"/><circle cx="507.3" cy="99.3" r="1.65"/></g><line x1="422.9" y1="173.4" x2="528.6" y2="35.9" stroke="#800000" stroke-width="3"/><g fill="none" stroke="#0f0" stroke-width="1.25"><path d="M590.5 68.7h9.4M595.2 64.0v9.4M591.9 65.4l6.6 6.6M591.9 72.0l6.6 -6.6M559.9 62.2h9.4M564.6 57.5v9.4M561.3 58.9l6.6 6.6M561.3 65.5l6.6 -6.6M516.2 137.1h9.4M520.9 132.4v9.4M517.6 133.8l6.6 6.6M517.6 140.4l6.6 -6.6M530.9 119.8h9.4M535.6 115.1v9.4M532.3 116.5l6.6 6.6M532.3 123.1l6.6 -6.6M487.4 135.8h9.4M492.1 131.1v9.4M488.8 132.4l6.6 6.6M488.8 139.1l6.6 -6.6M535.2 98.1h9.4M539.9 93.4v9.4M536.6 94.8l6.6 6.6M536.6 101.4l6.6 -6.6M523.2 139.4h9.4M527.9 134.7v9.4M524.6 136.0l6.6 6.6M524.6 142.7l6.6 -6.6M468.2 143.9h9.4M472.9 139.2v9.4M469.6 140.6l6.6 6.6M469.6 147.3l6.6 -6.6M508.0 110.1h9.4M512.7 105.4v9.4M509.4 106.7l6.6 6.6M509.4 113.4l6.6 -6.6M544.6 112.6h9.4M549.3 107.9v9.4M546.0 109.2l6.6 6.6M546.0 115.9l6.6 -6.6M549.7 108.6h9.4M554.4 103.9v9.4M551.1 105.3l6.6 6.6M551.1 111.9l6.6 -6.6M585.1 85.9h9.4M589.8 81.2v9.4M586.5 82.6l6.6 6.6M586.5 89.2l6.6 -6.6M518.5 118.5h9.4M523.2 113.8v9.4M519.9 115.1l6.6 6.6M519.9 121.8l6.6 -6.6M494.9 133.3h9.4M499.6 128.6v9.4M496.2 130.0l6.6 6.6M496.2 136.7l6.6 -6.6M522.5 121.6h9.4M527.2 116.9v9.4M523.8 118.3l6.6 6.6M523.8 124.9l6.6 -6.6M531.2 88.4h9.4M535.9 83.7v9.4M532.5 85.0l6.6 6.6M532.5 91.7l6.6 -6.6M573.2 97.8h9.4M577.9 93.1v9.4M574.6 94.5l6.6 6.6M574.6 101.1l6.6 -6.6M516.0 122.0h9.4M520.7 117.3v9.4M517.4 118.6l6.6 6.6M517.4 125.3l6.6 -6.6M508.8 124.2h9.4M513.5 119.5v9.4M510.2 120.9l6.6 6.6M510.2 127.5l6.6 -6.6M502.8 118.7h9.4M507.5 114.0v9.4M504.2 115.4l6.6 6.6M504.2 122.0l6.6 -6.6M469.6 140.9h9.4M474.3 136.2v9.4M471.0 137.6l6.6 6.6M471.0 144.2l6.6 -6.6M541.9 70.2h9.4M546.6 65.5v9.4M543.3 66.9l6.6 6.6M543.3 73.5l6.6 -6.6M536.6 124.4h9.4M541.3 119.7v9.4M538.0 121.1l6.6 6.6M538.0 127.7l6.6 -6.6M548.9 99.3h9.4M553.6 94.6v9.4M550.3 96.0l6.6 6.6M550.3 102.6l6.6 -6.6M506.8 157.0h9.4M511.5 152.3v9.4M508.2 153.7l6.6 6.6M508.2 160.3l6.6 -6.6M530.7 106.3h9.4M535.4 101.6v9.4M532.1 102.9l6.6 6.6M532.1 109.6l6.6 -6.6M578.5 77.7h9.4M583.2 73.0v9.4M579.9 74.3l6.6 6.6M579.9 81.0l6.6 -6.6M512.4 107.0h9.4M517.1 102.3v9.4M513.7 103.7l6.6 6.6M513.7 110.4l6.6 -6.6M478.1 141.6h9.4M482.8 136.9v9.4M479.5 138.3l6.6 6.6M479.5 144.9l6.6 -6.6M495.5 162.1h9.4M500.2 157.4v9.4M496.9 158.8l6.6 6.6M496.9 165.4l6.6 -6.6M547.8 94.5h9.4M552.5 89.8v9.4M549.1 91.2l6.6 6.6M549.1 97.8l6.6 -6.6M489.1 122.7h9.4M493.8 118.0v9.4M490.5 119.4l6.6 6.6M490.5 126.0l6.6 -6.6M541.3 119.6h9.4M546.0 114.9v9.4M542.7 116.3l6.6 6.6M542.7 122.9l6.6 -6.6M588.9 51.4h9.4M593.6 46.7v9.4M590.3 48.0l6.6 6.6M590.3 54.7l6.6 -6.6M598.2 67.6h9.4M602.9 62.9v9.4M599.5 64.3l6.6 6.6M599.5 70.9l6.6 -6.6M531.8 89.6h9.4M536.5 84.9v9.4M533.2 86.3l6.6 6.6M533.2 92.9l6.6 -6.6M498.5 137.1h9.4M503.2 132.4v9.4M499.9 133.7l6.6 6.6M499.9 140.4l6.6 -6.6M494.8 165.4h9.4M499.5 160.7v9.4M496.1 162.1l6.6 6.6M496.1 168.7l6.6 -6.6M572.1 70.0h9.4M576.8 65.3v9.4M573.5 66.7l6.6 6.6M573.5 73.3l6.6 -6.6M551.1 105.4h9.4M555.8 100.7v9.4M552.5 102.0l6.6 6.6M552.5 108.7l6.6 -6.6M480.5 141.4h9.4M485.2 136.7v9.4M481.9 138.0l6.6 6.6M481.9 144.7l6.6 -6.6M498.0 155.9h9.4M502.7 151.2v9.4M499.3 152.6l6.6 6.6M499.3 159.2l6.6 -6.6M578.3 64.2h9.4M583.0 59.5v9.4M579.7 60.8l6.6 6.6M579.7 67.5l6.6 -6.6M499.0 128.2h9.4M503.7 123.5v9.4M500.3 124.9l6.6 6.6M500.3 131.5l6.6 -6.6M557.1 96.9h9.4M561.8 92.2v9.4M558.5 93.6l6.6 6.6M558.5 100.3l6.6 -6.6M525.7 133.1h9.4M530.4 128.4v9.4M527.1 129.8l6.6 6.6M527.1 136.4l6.6 -6.6M524.5 91.6h9.4M529.2 86.9v9.4M525.8 88.3l6.6 6.6M525.8 95.0l6.6 -6.6M535.9 135.4h9.4M540.6 130.7v9.4M537.2 132.0l6.6 6.6M537.2 138.7l6.6 -6.6M543.8 109.6h9.4M548.5 104.9v9.4M545.2 106.3l6.6 6.6M545.2 112.9l6.6 -6.6M492.1 162.5h9.4M496.8 157.8v9.4M493.5 159.2l6.6 6.6M493.5 165.8l6.6 -6.6M562.0 84.2h9.4M566.7 79.5v9.4M563.4 80.9l6.6 6.6M563.4 87.6l6.6 -6.6M484.6 140.2h9.4M489.3 135.5v9.4M486.0 136.9l6.6 6.6M486.0 143.6l6.6 -6.6M515.5 135.9h9.4M520.2 131.2v9.4M516.9 132.6l6.6 6.6M516.9 139.2l6.6 -6.6M543.8 103.4h9.4M548.5 98.7v9.4M545.2 100.1l6.6 6.6M545.2 106.7l6.6 -6.6M527.2 133.3h9.4M531.9 128.6v9.4M528.6 130.0l6.6 6.6M528.6 136.7l6.6 -6.6M577.6 72.7h9.4M582.3 68.0v9.4M578.9 69.4l6.6 6.6M578.9 76.0l6.6 -6.6M546.0 105.6h9.4M550.7 100.9v9.4M547.4 102.3l6.6 6.6M547.4 108.9l6.6 -6.6M541.0 69.5h9.4M545.7 64.8v9.4M542.4 66.2l6.6 6.6M542.4 72.8l6.6 -6.6M589.6 83.0h9.4M594.3 78.3v9.4M591.0 79.7l6.6 6.6M591.0 86.3l6.6 -6.6M520.4 131.7h9.4M525.1 127.0v9.4M521.8 128.3l6.6 6.6M521.8 135.0l6.6 -6.6M564.9 97.0h9.4M569.6 92.3v9.4M566.3 93.7l6.6 6.6M566.3 100.3l6.6 -6.6M500.3 164.7h9.4M505.0 160.0v9.4M501.7 161.4l6.6 6.6M501.7 168.0l6.6 -6.6M516.0 107.6h9.4M520.7 102.9v9.4M517.4 104.3l6.6 6.6M517.4 110.9l6.6 -6.6M530.0 83.2h9.4M534.7 78.5v9.4M531.4 79.9l6.6 6.6M531.4 86.5l6.6 -6.6M502.9 136.4h9.4M507.6 131.7v9.4M504.3 133.1l6.6 6.6M504.3 139.7l6.6 -6.6M492.9 160.6h9.4M497.6 155.9v9.4M494.3 157.3l6.6 6.6M494.3 163.9l6.6 -6.6M516.3 130.2h9.4M521.0 125.5v9.4M517.7 126.9l6.6 6.6M517.7 133.5l6.6 -6.6M523.9 114.3h9.4M528.6 109.6v9.4M525.3 111.0l6.6 6.6M525.3 117.6l6.6 -6.6M555.7 114.8h9.4M560.4 110.1v9.4M557.1 111.5l6.6 6.6M557.1 118.1l6.6 -6.6M556.9 63.0h9.4M561.6 58.3v9.4M558.3 59.6l6.6 6.6M558.3 66.3l6.6 -6.6M479.4 143.9h9.4M484.1 139.2v9.4M480.7 140.6l6.6 6.6M480.7 147.3l6.6 -6.6M578.4 112.0h9.4M583.1 107.3v9.4M579.8 108.7l6.6 6.6M579.8 115.3l6.6 -6.6M490.4 162.3h9.4M495.1 157.6v9.4M491.8 159.0l6.6 6.6M491.8 165.6l6.6 -6.6M508.2 153.1h9.4M512.9 148.4v9.4M509.6 149.8l6.6 6.6M509.6 156.5l6.6 -6.6M541.1 71.1h9.4M545.8 66.4v9.4M542.5 67.8l6.6 6.6M542.5 74.4l6.6 -6.6M514.3 127.1h9.4M519.0 122.4v9.4M515.7 123.7l6.6 6.6M515.7 130.4l6.6 -6.6M517.6 137.0h9.4M522.3 132.3v9.4M519.0 133.7l6.6 6.6M519.0 140.3l6.6 -6.6M546.4 112.4h9.4M551.1 107.7v9.4M547.8 109.1l6.6 6.6M547.8 115.8l6.6 -6.6M516.0 107.7h9.4M520.7 103.0v9.4M517.4 104.4l6.6 6.6M517.4 111.0l6.6 -6.6M575.0 76.2h9.4M579.7 71.5v9.4M576.4 72.9l6.6 6.6M576.4 79.5l6.6 -6.6M484.2 137.2h9.4M488.9 132.5v9.4M485.6 133.9l6.6 6.6M485.6 140.5l6.6 -6.6M542.2 98.6h9.4M546.9 93.9v9.4M543.6 95.3l6.6 6.6M543.6 101.9l6.6 -6.6M490.2 154.5h9.4M494.9 149.8v9.4M491.6 151.2l6.6 6.6M491.6 157.9l6.6 -6.6M598.4 61.5h9.4M603.1 56.8v9.4M599.8 58.1l6.6 6.6M599.8 64.8l6.6 -6.6M554.1 120.9h9.4M558.8 116.2v9.4M555.5 117.6l6.6 6.6M555.5 124.2l6.6 -6.6M539.2 122.5h9.4M543.9 117.8v9.4M540.6 119.1l6.6 6.6M540.6 125.8l6.6 -6.6M582.2 77.4h9.4M586.9 72.7v9.4M583.5 74.0l6.6 6.6M583.5 80.7l6.6 -6.6M595.6 61.3h9.4M600.3 56.6v9.4M596.9 58.0l6.6 6.6M596.9 64.6l6.6 -6.6M488.4 160.7h9.4M493.1 156.0v9.4M489.7 157.4l6.6 6.6M489.7 164.0l6.6 -6.6M466.8 153.8h9.4M471.5 149.1v9.4M468.2 150.4l6.6 6.6M468.2 157.1l6.6 -6.6M510.4 145.6h9.4M515.1 140.9v9.4M511.8 142.3l6.6 6.6M511.8 148.9l6.6 -6.6M510.5 118.9h9.4M515.2 114.2v9.4M511.9 115.6l6.6 6.6M511.9 122.2l6.6 -6.6M475.2 145.2h9.4M479.9 140.5v9.4M476.5 141.8l6.6 6.6M476.5 148.5l6.6 -6.6M545.3 120.1h9.4M550.0 115.4v9.4M546.7 116.8l6.6 6.6M546.7 123.4l6.6 -6.6M590.3 71.8h9.4M595.0 67.1v9.4M591.7 68.5l6.6 6.6M591.7 75.1l6.6 -6.6M532.8 109.1h9.4M537.5 104.4v9.4M534.1 105.8l6.6 6.6M534.1 112.5l6.6 -6.6M597.4 66.1h9.4M602.1 61.4v9.4M598.8 62.8l6.6 6.6M598.8 69.4l6.6 -6.6M528.7 134.5h9.4M533.4 129.8v9.4M530.1 131.2l6.6 6.6M530.1 137.8l6.6 -6.6M528.8 100.8h9.4M533.5 96.1v9.4M530.2 97.5l6.6 6.6M530.2 104.1l6.6 -6.6M544.0 85.7h9.4M548.7 81.0v9.4M545.4 82.4l6.6 6.6M545.4 89.1l6.6 -6.6M512.0 146.4h9.4M516.7 141.7v9.4M513.4 143.1l6.6 6.6M513.4 149.7l6.6 -6.6M504.7 137.2h9.4M509.4 132.5v9.4M506.1 133.9l6.6 6.6M506.1 140.6l6.6 -6.6M549.8 87.7h9.4M554.5 83.0v9.4M551.2 84.3l6.6 6.6M551.2 91.0l6.6 -6.6M582.8 71.9h9.4M587.5 67.2v9.4M584.1 68.6l6.6 6.6M584.1 75.2l6.6 -6.6M518.7 117.6h9.4M523.4 112.9v9.4M520.0 114.3l6.6 6.6M520.0 120.9l6.6 -6.6M489.0 159.7h9.4M493.7 155.0v9.4M490.4 156.4l6.6 6.6M490.4 163.0l6.6 -6.6M498.0 134.0h9.4M502.7 129.3v9.4M499.4 130.6l6.6 6.6M499.4 137.3l6.6 -6.6M477.9 140.0h9.4M482.6 135.3v9.4M479.3 136.7l6.6 6.6M479.3 143.3l6.6 -6.6M538.9 92.2h9.4M543.6 87.5v9.4M540.3 88.9l6.6 6.6M540.3 95.5l6.6 -6.6M571.5 97.0h9.4M576.2 92.3v9.4M572.9 93.7l6.6 6.6M572.9 100.3l6.6 -6.6M571.7 73.3h9.4M576.4 68.6v9.4M573.1 69.9l6.6 6.6M573.1 76.6l6.6 -6.6M543.2 93.7h9.4M547.9 89.0v9.4M544.6 90.4l6.6 6.6M544.6 97.0l6.6 -6.6M542.7 135.0h9.4M547.4 130.3v9.4M544.1 131.7l6.6 6.6M544.1 138.3l6.6 -6.6M526.2 140.3h9.4M530.9 135.6v9.4M527.6 137.0l6.6 6.6M527.6 143.6l6.6 -6.6M510.1 139.8h9.4M514.8 135.1v9.4M511.4 136.4l6.6 6.6M511.4 143.1l6.6 -6.6M545.8 74.8h9.4M550.5 70.1v9.4M547.2 71.5l6.6 6.6M547.2 78.2l6.6 -6.6M493.7 166.4h9.4M498.4 161.7v9.4M495.1 163.1l6.6 6.6M495.1 169.8l6.6 -6.6M525.5 109.3h9.4M530.2 104.6v9.4M526.9 106.0l6.6 6.6M526.9 112.6l6.6 -6.6M502.1 165.1h9.4M506.8 160.4v9.4M503.5 161.8l6.6 6.6M503.5 168.4l6.6 -6.6M509.2 133.1h9.4M513.9 128.4v9.4M510.6 129.8l6.6 6.6M510.6 136.4l6.6 -6.6M481.7 161.8h9.4M486.4 157.1v9.4M483.0 158.5l6.6 6.6M483.0 165.1l6.6 -6.6M544.3 114.7h9.4M549.0 110.0v9.4M545.7 111.4l6.6 6.6M545.7 118.0l6.6 -6.6M462.2 149.5h9.4M466.9 144.8v9.4M463.6 146.2l6.6 6.6M463.6 152.9l6.6 -6.6M532.8 118.6h9.4M537.5 113.9v9.4M534.2 115.2l6.6 6.6M534.2 121.9l6.6 -6.6M590.0 78.6h9.4M594.7 73.9v9.4M591.4 75.3l6.6 6.6M591.4 82.0l6.6 -6.6M578.4 75.7h9.4M583.1 71.0v9.4M579.7 72.3l6.6 6.6M579.7 79.0l6.6 -6.6M549.1 104.9h9.4M553.8 100.2v9.4M550.5 101.6l6.6 6.6M550.5 108.2l6.6 -6.6M569.5 70.6h9.4M574.2 65.9v9.4M570.9 67.3l6.6 6.6M570.9 74.0l6.6 -6.6M482.3 143.1h9.4M487.0 138.4v9.4M483.7 139.8l6.6 6.6M483.7 146.4l6.6 -6.6M480.2 151.0h9.4M484.9 146.3v9.4M481.6 147.7l6.6 6.6M481.6 154.4l6.6 -6.6M558.7 76.8h9.4M563.4 72.1v9.4M560.1 73.5l6.6 6.6M560.1 80.1l6.6 -6.6M571.9 79.4h9.4M576.6 74.7v9.4M573.3 76.1l6.6 6.6M573.3 82.7l6.6 -6.6M556.5 81.9h9.4M561.2 77.2v9.4M557.9 78.6l6.6 6.6M557.9 85.2l6.6 -6.6M572.5 86.2h9.4M577.2 81.5v9.4M573.9 82.9l6.6 6.6M573.9 89.5l6.6 -6.6M527.9 117.0h9.4M532.6 112.3v9.4M529.2 113.7l6.6 6.6M529.2 120.3l6.6 -6.6M559.8 78.9h9.4M564.5 74.2v9.4M561.1 75.6l6.6 6.6M561.1 82.3l6.6 -6.6M491.0 127.4h9.4M495.7 122.7v9.4M492.4 124.1l6.6 6.6M492.4 130.7l6.6 -6.6M520.6 137.4h9.4M525.3 132.7v9.4M522.0 134.1l6.6 6.6M522.0 140.7l6.6 -6.6M467.1 151.8h9.4M471.8 147.1v9.4M468.5 148.5l6.6 6.6M468.5 155.2l6.6 -6.6M506.7 141.9h9.4M511.4 137.2v9.4M508.0 138.5l6.6 6.6M508.0 145.2l6.6 -6.6M489.3 133.6h9.4M494.0 128.9v9.4M490.7 130.3l6.6 6.6M490.7 136.9l6.6 -6.6M497.5 145.6h9.4M502.2 140.9v9.4M498.9 142.3l6.6 6.6M498.9 148.9l6.6 -6.6M481.8 125.5h9.4M486.5 120.8v9.4M483.2 122.2l6.6 6.6M483.2 128.8l6.6 -6.6M527.1 135.1h9.4M531.8 130.4v9.4M528.5 131.8l6.6 6.6M528.5 138.5l6.6 -6.6M520.4 136.2h9.4M525.1 131.5v9.4M521.8 132.9l6.6 6.6M521.8 139.5l6.6 -6.6M481.7 150.7h9.4M486.4 146.0v9.4M483.1 147.4l6.6 6.6M483.1 154.0l6.6 -6.6M604.1 57.7h9.4M608.8 53.0v9.4M605.5 54.3l6.6 6.6M605.5 61.0l6.6 -6.6M505.0 142.9h9.4M509.7 138.2v9.4M506.4 139.6l6.6 6.6M506.4 146.3l6.6 -6.6M529.6 101.7h9.4M534.3 97.0v9.4M531.0 98.3l6.6 6.6M531.0 105.0l6.6 -6.6M538.0 121.0h9.4M542.7 116.3v9.4M539.4 117.6l6.6 6.6M539.4 124.3l6.6 -6.6M522.1 137.9h9.4M526.8 133.2v9.4M523.5 134.6l6.6 6.6M523.5 141.3l6.6 -6.6M530.1 131.3h9.4M534.8 126.6v9.4M531.5 128.0l6.6 6.6M531.5 134.6l6.6 -6.6M545.3 136.0h9.4M550.0 131.3v9.4M546.6 132.6l6.6 6.6M546.6 139.3l6.6 -6.6M520.6 118.6h9.4M525.3 113.9v9.4M522.0 115.3l6.6 6.6M522.0 121.9l6.6 -6.6M545.7 98.8h9.4M550.4 94.1v9.4M547.1 95.4l6.6 6.6M547.1 102.1l6.6 -6.6M530.9 83.5h9.4M535.6 78.8v9.4M532.3 80.2l6.6 6.6M532.3 86.9l6.6 -6.6M531.5 109.6h9.4M536.2 104.9v9.4M532.9 106.3l6.6 6.6M532.9 112.9l6.6 -6.6M554.0 81.6h9.4M558.7 76.9v9.4M555.4 78.3l6.6 6.6M555.4 84.9l6.6 -6.6M585.0 78.1h9.4M589.7 73.4v9.4M586.3 74.7l6.6 6.6M586.3 81.4l6.6 -6.6M471.4 145.6h9.4M476.1 140.9v9.4M472.8 142.3l6.6 6.6M472.8 149.0l6.6 -6.6M540.8 115.2h9.4M545.5 110.5v9.4M542.2 111.9l6.6 6.6M542.2 118.5l6.6 -6.6M538.9 81.9h9.4M543.6 77.2v9.4M540.2 78.6l6.6 6.6M540.2 85.2l6.6 -6.6M548.6 124.8h9.4M553.3 120.1v9.4M550.0 121.5l6.6 6.6M550.0 128.1l6.6 -6.6M518.1 111.0h9.4M522.8 106.3v9.4M519.4 107.6l6.6 6.6M519.4 114.3l6.6 -6.6M532.4 116.5h9.4M537.1 111.8v9.4M533.7 113.2l6.6 6.6M533.7 119.9l6.6 -6.6M523.9 109.9h9.4M528.6 105.2v9.4M525.2 106.5l6.6 6.6M525.2 113.2l6.6 -6.6M508.2 137.9h9.4M512.9 133.2v9.4M509.6 134.6l6.6 6.6M509.6 141.2l6.6 -6.6M550.8 120.1h9.4M555.5 115.4v9.4M552.2 116.8l6.6 6.6M552.2 123.5l6.6 -6.6M540.8 94.8h9.4M545.5 90.1v9.4M542.2 91.5l6.6 6.6M542.2 98.2l6.6 -6.6M530.2 83.8h9.4M534.9 79.1v9.4M531.6 80.5l6.6 6.6M531.6 87.1l6.6 -6.6M560.0 87.6h9.4M564.7 82.9v9.4M561.3 84.3l6.6 6.6M561.3 90.9l6.6 -6.6M579.3 86.5h9.4M584.0 81.8v9.4M580.7 83.2l6.6 6.6M580.7 89.8l6.6 -6.6M531.4 118.0h9.4M536.1 113.3v9.4M532.8 114.7l6.6 6.6M532.8 121.3l6.6 -6.6M497.8 123.1h9.4M502.5 118.4v9.4M499.2 119.8l6.6 6.6M499.2 126.4l6.6 -6.6M491.5 132.1h9.4M496.2 127.4v9.4M492.9 128.7l6.6 6.6M492.9 135.4l6.6 -6.6M507.0 109.8h9.4M511.7 105.1v9.4M508.4 106.5l6.6 6.6M508.4 113.2l6.6 -6.6M520.0 104.6h9.4M524.7 99.9v9.4M521.4 101.3l6.6 6.6M521.4 108.0l6.6 -6.6M489.2 145.9h9.4M493.9 141.2v9.4M490.6 142.5l6.6 6.6M490.6 149.2l6.6 -6.6M515.5 126.7h9.4M520.2 122.0v9.4M516.8 123.4l6.6 6.6M516.8 130.0l6.6 -6.6M522.2 134.5h9.4M526.9 129.8v9.4M523.5 131.2l6.6 6.6M523.5 137.8l6.6 -6.6M527.1 111.3h9.4M531.8 106.6v9.4M528.5 108.0l6.6 6.6M528.5 114.6l6.6 -6.6M490.5 157.9h9.4M495.2 153.2v9.4M491.9 154.6l6.6 6.6M491.9 161.2l6.6 -6.6M474.2 127.1h9.4M478.9 122.4v9.4M475.5 123.8l6.6 6.6M475.5 130.4l6.6 -6.6M525.1 94.6h9.4M529.8 89.9v9.4M526.5 91.3l6.6 6.6M526.5 97.9l6.6 -6.6M546.2 110.8h9.4M550.9 106.1v9.4M547.6 107.4l6.6 6.6M547.6 114.1l6.6 -6.6M560.9 101.3h9.4M565.6 96.6v9.4M562.3 98.0l6.6 6.6M562.3 104.7l6.6 -6.6M568.8 67.4h9.4M573.5 62.7v9.4M570.2 64.1l6.6 6.6M570.2 70.8l6.6 -6.6M502.9 113.7h9.4M507.6 109.0v9.4M504.3 110.4l6.6 6.6M504.3 117.0l6.6 -6.6M567.9 88.2h9.4M572.6 83.5v9.4M569.3 84.9l6.6 6.6M569.3 91.5l6.6 -6.6M490.3 126.1h9.4M495.0 121.4v9.4M491.7 122.8l6.6 6.6M491.7 129.4l6.6 -6.6M488.7 124.9h9.4M493.4 120.2v9.4M490.1 121.6l6.6 6.6M490.1 128.3l6.6 -6.6M501.8 158.8h9.4M506.5 154.1v9.4M503.2 155.5l6.6 6.6M503.2 162.2l6.6 -6.6M510.1 114.8h9.4M514.8 110.1v9.4M511.4 111.4l6.6 6.6M511.4 118.1l6.6 -6.6M538.8 97.1h9.4M543.5 92.4v9.4M540.2 93.8l6.6 6.6M540.2 100.5l6.6 -6.6M517.0 139.3h9.4M521.7 134.6v9.4M518.3 136.0l6.6 6.6M518.3 142.6l6.6 -6.6M494.5 146.1h9.4M499.2 141.4v9.4M495.9 142.8l6.6 6.6M495.9 149.4l6.6 -6.6M489.2 127.1h9.4M493.9 122.4v9.4M490.6 123.8l6.6 6.6M490.6 130.5l6.6 -6.6M503.3 140.4h9.4M508.0 135.7v9.4M504.6 137.1l6.6 6.6M504.6 143.7l6.6 -6.6M530.2 116.0h9.4M534.9 111.3v9.4M531.5 112.7l6.6 6.6M531.5 119.4l6.6 -6.6M590.6 76.2h9.4M595.3 71.5v9.4M592.0 72.9l6.6 6.6M592.0 79.5l6.6 -6.6M584.3 92.9h9.4M589.0 88.2v9.4M585.7 89.6l6.6 6.6M585.7 96.2l6.6 -6.6M557.8 66.3h9.4M562.5 61.6v9.4M559.1 62.9l6.6 6.6M559.1 69.6l6.6 -6.6M536.3 113.3h9.4M541.0 108.6v9.4M537.6 110.0l6.6 6.6M537.6 116.6l6.6 -6.6M522.8 117.4h9.4M527.5 112.7v9.4M524.2 114.1l6.6 6.6M524.2 120.7l6.6 -6.6M540.5 75.0h9.4M545.2 70.3v9.4M541.9 71.7l6.6 6.6M541.9 78.3l6.6 -6.6M579.5 71.8h9.4M584.2 67.1v9.4M580.9 68.5l6.6 6.6M580.9 75.1l6.6 -6.6M477.0 124.0h9.4M481.7 119.3v9.4M478.4 120.7l6.6 6.6M478.4 127.3l6.6 -6.6M559.4 105.9h9.4M564.1 101.2v9.4M560.8 102.6l6.6 6.6M560.8 109.2l6.6 -6.6M575.6 115.9h9.4M580.3 111.2v9.4M577.0 112.6l6.6 6.6M577.0 119.2l6.6 -6.6M490.1 149.4h9.4M494.8 144.7v9.4M491.5 146.1l6.6 6.6M491.5 152.7l6.6 -6.6M584.8 56.9h9.4M589.5 52.2v9.4M586.2 53.6l6.6 6.6M586.2 60.2l6.6 -6.6M556.5 107.8h9.4M561.2 103.1v9.4M557.8 104.5l6.6 6.6M557.8 111.1l6.6 -6.6M521.2 140.4h9.4M525.9 135.7v9.4M522.5 137.0l6.6 6.6M522.5 143.7l6.6 -6.6M525.3 102.2h9.4M530.0 97.5v9.4M526.7 98.9l6.6 6.6M526.7 105.6l6.6 -6.6M563.7 105.6h9.4M568.4 100.9v9.4M565.1 102.3l6.6 6.6M565.1 108.9l6.6 -6.6M531.3 113.5h9.4M536.0 108.8v9.4M532.6 110.2l6.6 6.6M532.6 116.9l6.6 -6.6M548.5 122.2h9.4M553.2 117.5v9.4M549.9 118.9l6.6 6.6M549.9 125.5l6.6 -6.6M520.8 85.8h9.4M525.5 81.1v9.4M522.1 82.5l6.6 6.6M522.1 89.1l6.6 -6.6M499.8 145.1h9.4M504.5 140.4v9.4M501.2 141.8l6.6 6.6M501.2 148.5l6.6 -6.6M553.8 105.3h9.4M558.5 100.6v9.4M555.2 102.0l6.6 6.6M555.2 108.7l6.6 -6.6M533.1 124.6h9.4M537.8 119.9v9.4M534.5 121.2l6.6 6.6M534.5 127.9l6.6 -6.6M497.1 143.7h9.4M501.8 139.0v9.4M498.5 140.4l6.6 6.6M498.5 147.0l6.6 -6.6M544.4 72.1h9.4M549.1 67.4v9.4M545.8 68.7l6.6 6.6M545.8 75.4l6.6 -6.6M502.3 129.7h9.4M507.0 125.0v9.4M503.6 126.4l6.6 6.6M503.6 133.0l6.6 -6.6M530.6 142.9h9.4M535.3 138.2v9.4M532.0 139.5l6.6 6.6M532.0 146.2l6.6 -6.6M552.0 117.0h9.4M556.7 112.3v9.4M553.3 113.6l6.6 6.6M553.3 120.3l6.6 -6.6M542.2 105.0h9.4M546.9 100.3v9.4M543.5 101.7l6.6 6.6M543.5 108.4l6.6 -6.6M517.0 150.2h9.4M521.7 145.5v9.4M518.4 146.9l6.6 6.6M518.4 153.5l6.6 -6.6M527.9 103.2h9.4M532.6 98.5v9.4M529.3 99.9l6.6 6.6M529.3 106.5l6.6 -6.6M533.1 85.4h9.4M537.8 80.7v9.4M534.5 82.1l6.6 6.6M534.5 88.7l6.6 -6.6M507.3 162.3h9.4M512.0 157.6v9.4M508.6 159.0l6.6 6.6M508.6 165.7l6.6 -6.6M550.3 111.5h9.4M555.0 106.8v9.4M551.7 108.2l6.6 6.6M551.7 114.8l6.6 -6.6M519.7 106.0h9.4M524.4 101.3v9.4M521.1 102.7l6.6 6.6M521.1 109.3l6.6 -6.6M512.4 116.7h9.4M517.1 112.0v9.4M513.8 113.4l6.6 6.6M513.8 120.1l6.6 -6.6M539.1 75.3h9.4M543.8 70.6v9.4M540.5 72.0l6.6 6.6M540.5 78.6l6.6 -6.6M556.1 91.0h9.4M560.8 86.3v9.4M557.4 87.7l6.6 6.6M557.4 94.3l6.6 -6.6M558.2 65.5h9.4M562.9 60.8v9.4M559.6 62.1l6.6 6.6M559.6 68.8l6.6 -6.6M541.1 106.3h9.4M545.8 101.6v9.4M542.5 102.9l6.6 6.6M542.5 109.6l6.6 -6.6M569.3 89.3h9.4M574.0 84.6v9.4M570.6 86.0l6.6 6.6M570.6 92.7l6.6 -6.6M514.2 143.0h9.4M518.9 138.3v9.4M515.6 139.6l6.6 6.6M515.6 146.3l6.6 -6.6M559.5 100.5h9.4M564.2 95.8v9.4M560.9 97.2l6.6 6.6M560.9 103.8l6.6 -6.6M531.1 89.3h9.4M535.8 84.6v9.4M532.5 86.0l6.6 6.6M532.5 92.6l6.6 -6.6M550.3 101.0h9.4M555.0 96.3v9.4M551.6 97.6l6.6 6.6M551.6 104.3l6.6 -6.6M571.0 100.7h9.4M575.7 96.0v9.4M572.4 97.4l6.6 6.6M572.4 104.1l6.6 -6.6M564.6 89.6h9.4M569.3 84.9v9.4M565.9 86.3l6.6 6.6M565.9 93.0l6.6 -6.6M505.5 143.0h9.4M510.2 138.3v9.4M506.9 139.7l6.6 6.6M506.9 146.3l6.6 -6.6M605.0 68.4h9.4M609.7 63.7v9.4M606.4 65.1l6.6 6.6M606.4 71.7l6.6 -6.6M476.0 164.7h9.4M480.7 160.0v9.4M477.4 161.4l6.6 6.6M477.4 168.0l6.6 -6.6M573.6 95.2h9.4M578.3 90.5v9.4M574.9 91.9l6.6 6.6M574.9 98.6l6.6 -6.6M511.3 132.1h9.4M516.0 127.4v9.4M512.6 128.8l6.6 6.6M512.6 135.5l6.6 -6.6M553.7 102.1h9.4M558.4 97.4v9.4M555.1 98.7l6.6 6.6M555.1 105.4l6.6 -6.6M545.3 125.5h9.4M550.0 120.8v9.4M546.7 122.2l6.6 6.6M546.7 128.8l6.6 -6.6M497.1 126.5h9.4M501.8 121.8v9.4M498.5 123.2l6.6 6.6M498.5 129.8l6.6 -6.6M601.6 75.1h9.4M606.3 70.4v9.4M603.0 71.8l6.6 6.6M603.0 78.5l6.6 -6.6M485.3 139.7h9.4M490.0 135.0v9.4M486.7 136.3l6.6 6.6M486.7 143.0l6.6 -6.6M496.0 162.4h9.4M500.7 157.7v9.4M497.3 159.1l6.6 6.6M497.3 165.7l6.6 -6.6M551.2 66.1h9.4M555.9 61.4v9.4M552.6 62.8l6.6 6.6M552.6 69.4l6.6 -6.6M529.9 123.7h9.4M534.6 119.0v9.4M531.2 120.4l6.6 6.6M531.2 127.0l6.6 -6.6M527.1 124.7h9.4M531.8 120.0v9.4M528.5 121.4l6.6 6.6M528.5 128.0l6.6 -6.6M526.1 94.8h9.4M530.8 90.1v9.4M527.4 91.5l6.6 6.6M527.4 98.1l6.6 -6.6M562.6 80.0h9.4M567.3 75.3v9.4M564.0 76.7l6.6 6.6M564.0 83.3l6.6 -6.6M575.8 52.6h9.4M580.5 47.9v9.4M577.2 49.3l6.6 6.6M577.2 55.9l6.6 -6.6M560.5 71.6h9.4M565.2 66.9v9.4M561.9 68.2l6.6 6.6M561.9 74.9l6.6 -6.6M539.3 81.1h9.4M544.0 76.4v9.4M540.7 77.8l6.6 6.6M540.7 84.5l6.6 -6.6M555.2 117.8h9.4M559.9 113.1v9.4M556.5 114.4l6.6 6.6M556.5 121.1l6.6 -6.6M570.9 62.3h9.4M575.6 57.6v9.4M572.3 58.9l6.6 6.6M572.3 65.6l6.6 -6.6M537.9 144.2h9.4M542.6 139.5v9.4M539.2 140.9l6.6 6.6M539.2 147.5l6.6 -6.6M489.3 160.3h9.4M494.0 155.6v9.4M490.6 157.0l6.6 6.6M490.6 163.6l6.6 -6.6M526.7 97.0h9.4M531.4 92.3v9.4M528.1 93.7l6.6 6.6M528.1 100.3l6.6 -6.6M528.8 135.7h9.4M533.5 131.0v9.4M530.2 132.4l6.6 6.6M530.2 139.1l6.6 -6.6M503.6 132.0h9.4M508.3 127.3v9.4M505.0 128.7l6.6 6.6M505.0 135.4l6.6 -6.6M519.3 131.5h9.4M524.0 126.8v9.4M520.7 128.2l6.6 6.6M520.7 134.9l6.6 -6.6M542.1 120.2h9.4M546.8 115.5v9.4M543.5 116.9l6.6 6.6M543.5 123.5l6.6 -6.6M545.3 88.3h9.4M550.0 83.6v9.4M546.6 85.0l6.6 6.6M546.6 91.6l6.6 -6.6M501.9 151.8h9.4M506.6 147.1v9.4M503.3 148.5l6.6 6.6M503.3 155.1l6.6 -6.6M492.1 122.2h9.4M496.8 117.5v9.4M493.5 118.8l6.6 6.6M493.5 125.5l6.6 -6.6M536.5 78.3h9.4M541.2 73.6v9.4M537.9 75.0l6.6 6.6M537.9 81.7l6.6 -6.6M511.7 128.7h9.4M516.4 124.0v9.4M513.1 125.4l6.6 6.6M513.1 132.0l6.6 -6.6M552.2 73.0h9.4M556.9 68.3v9.4M553.6 69.6l6.6 6.6M553.6 76.3l6.6 -6.6M496.1 166.2h9.4M500.8 161.5v9.4M497.5 162.8l6.6 6.6M497.5 169.5l6.6 -6.6M527.5 131.1h9.4M532.2 126.4v9.4M528.9 127.7l6.6 6.6M528.9 134.4l6.6 -6.6M522.4 100.0h9.4M527.1 95.3v9.4M523.8 96.7l6.6 6.6M523.8 103.3l6.6 -6.6M573.0 69.3h9.4M577.7 64.6v9.4M574.4 66.0l6.6 6.6M574.4 72.7l6.6 -6.6M518.1 109.4h9.4M522.8 104.7v9.4M519.5 106.1l6.6 6.6M519.5 112.7l6.6 -6.6M571.1 87.2h9.4M575.8 82.5v9.4M572.5 83.8l6.6 6.6M572.5 90.5l6.6 -6.6M513.7 150.3h9.4M518.4 145.6v9.4M515.1 146.9l6.6 6.6M515.1 153.6l6.6 -6.6M526.6 136.9h9.4M531.3 132.2v9.4M528.0 133.5l6.6 6.6M528.0 140.2l6.6 -6.6M540.7 123.2h9.4M545.4 118.5v9.4M542.1 119.9l6.6 6.6M542.1 126.5l6.6 -6.6M553.2 96.2h9.4M557.9 91.5v9.4M554.6 92.8l6.6 6.6M554.6 99.5l6.6 -6.6M539.8 119.2h9.4M544.5 114.5v9.4M541.1 115.8l6.6 6.6M541.1 122.5l6.6 -6.6M533.2 118.7h9.4M537.9 114.0v9.4M534.6 115.4l6.6 6.6M534.6 122.0l6.6 -6.6M518.4 118.4h9.4M523.1 113.7v9.4M519.7 115.0l6.6 6.6M519.7 121.7l6.6 -6.6M553.1 89.0h9.4M557.8 84.3v9.4M554.5 85.7l6.6 6.6M554.5 92.3l6.6 -6.6M577.4 68.6h9.4M582.1 63.9v9.4M578.8 65.2l6.6 6.6M578.8 71.9l6.6 -6.6M535.5 85.5h9.4M540.2 80.8v9.4M536.9 82.2l6.6 6.6M536.9 88.8l6.6 -6.6M549.6 124.2h9.4M554.3 119.5v9.4M551.0 120.9l6.6 6.6M551.0 127.5l6.6 -6.6M508.8 111.6h9.4M513.5 106.9v9.4M510.1 108.3l6.6 6.6M510.1 114.9l6.6 -6.6M540.4 134.3h9.4M545.1 129.6v9.4M541.7 131.0l6.6 6.6M541.7 137.6l6.6 -6.6M572.8 79.4h9.4M577.5 74.7v9.4M574.2 76.0l6.6 6.6M574.2 82.7l6.6 -6.6M485.8 139.5h9.4M490.5 134.8v9.4M487.1 136.2l6.6 6.6M487.1 142.8l6.6 -6.6M447.0 188.1h9.4M451.7 183.4v9.4M448.4 184.8l6.6 6.6M448.4 191.4l6.6 -6.6M461.7 172.9h9.4M466.4 168.2v9.4M463.1 169.6l6.6 6.6M463.1 176.2l6.6 -6.6M473.4 172.9h9.4M478.1 168.2v9.4M474.8 169.6l6.6 6.6M474.8 176.2l6.6 -6.6M482.1 172.2h9.4M486.8 167.5v9.4M483.5 168.9l6.6 6.6M483.5 175.5l6.6 -6.6M511.3 164.0h9.4M516.0 159.3v9.4M512.7 160.7l6.6 6.6M512.7 167.3l6.6 -6.6M531.8 166.8h9.4M536.5 162.1v9.4M533.2 163.5l6.6 6.6M533.2 170.1l6.6 -6.6M607.9 35.2h9.4M612.6 30.5v9.4M609.3 31.9l6.6 6.6M609.3 38.5l6.6 -6.6M584.3 36.4h9.4M589.0 31.7v9.4M585.7 33.1l6.6 6.6M585.7 39.7l6.6 -6.6M600.9 36.0h9.4M605.6 31.3v9.4M602.3 32.7l6.6 6.6M602.3 39.3l6.6 -6.6M610.3 43.4h9.4M615.0 38.7v9.4M611.7 40.1l6.6 6.6M611.7 46.7l6.6 -6.6M614.9 81.2h9.4M619.6 76.5v9.4M616.3 77.9l6.6 6.6M616.3 84.5l6.6 -6.6M605.3 64.4h9.4M610.0 59.7v9.4M606.7 61.1l6.6 6.6M606.7 67.7l6.6 -6.6M602.1 96.0h9.4M606.8 91.3v9.4M603.5 92.7l6.6 6.6M603.5 99.3l6.6 -6.6M601.6 100.5h9.4M606.3 95.8v9.4M603.0 97.2l6.6 6.6M603.0 103.8l6.6 -6.6M612.1 110.3h9.4M616.8 105.6v9.4M613.5 107.0l6.6 6.6M613.5 113.6l6.6 -6.6M587.6 143.3h9.4M592.3 138.6v9.4M589.0 140.0l6.6 6.6M589.0 146.6l6.6 -6.6M579.9 127.4h9.4M584.6 122.7v9.4M581.3 124.1l6.6 6.6M581.3 130.7l6.6 -6.6M572.2 124.6h9.4M576.9 119.9v9.4M573.6 121.3l6.6 6.6M573.6 127.9l6.6 -6.6M584.6 116.9h9.4M589.3 112.2v9.4M586.0 113.6l6.6 6.6M586.0 120.2l6.6 -6.6M562.3 114.5h9.4M567.0 109.8v9.4M563.7 111.2l6.6 6.6M563.7 117.8l6.6 -6.6M555.3 126.2h9.4M560.0 121.5v9.4M556.7 122.9l6.6 6.6M556.7 129.5l6.6 -6.6M532.0 165.2h9.4M536.7 160.5v9.4M533.4 161.9l6.6 6.6M533.4 168.5l6.6 -6.6"/></g><line x1="451.9" y1="168.0" x2="621.4" y2="52.3" stroke="#006400" stroke-width="3"/><g fill="none" stroke="#00f" stroke-width="1.3"><circle cx="544.8" cy="94.1" r="4.45"/><circle cx="503.4" cy="152.9" r="4.45"/><circle cx="509.2" cy="126.2" r="4.45"/><circle cx="467.2" cy="151.4" r="4.45"/><circle cx="490.9" cy="140.8" r="4.45"/><circle cx="548.2" cy="118.2" r="4.45"/><circle cx="547.3" cy="92.2" r="4.45"/><circle cx="508.0" cy="138.3" r="4.45"/><circle cx="559.7" cy="64.5" r="4.45"/><circle cx="525.2" cy="133.0" r="4.45"/><circle cx="481.0" cy="136.0" r="4.45"/><circle cx="480.8" cy="156.6" r="4.45"/><circle cx="528.4" cy="107.4" r="4.45"/><circle cx="537.2" cy="89.7" r="4.45"/><circle cx="574.2" cy="87.0" r="4.45"/><circle cx="486.9" cy="122.1" r="4.45"/><circle cx="585.2" cy="65.4" r="4.45"/><circle cx="555.5" cy="88.0" r="4.45"/><circle cx="526.1" cy="88.0" r="4.45"/><circle cx="561.1" cy="67.9" r="4.45"/><circle cx="574.6" cy="95.7" r="4.45"/><circle cx="495.6" cy="124.5" r="4.45"/><circle cx="562.5" cy="71.7" r="4.45"/><circle cx="567.4" cy="89.1" r="4.45"/><circle cx="505.5" cy="146.8" r="4.45"/><circle cx="507.4" cy="124.2" r="4.45"/><circle cx="509.5" cy="147.0" r="4.45"/><circle cx="553.8" cy="65.4" r="4.45"/><circle cx="544.1" cy="99.1" r="4.45"/><circle cx="516.9" cy="126.7" r="4.45"/><circle cx="540.9" cy="85.9" r="4.45"/><circle cx="478.7" cy="119.5" r="4.45"/><circle cx="530.1" cy="129.0" r="4.45"/><circle cx="543.5" cy="83.7" r="4.45"/><circle cx="554.3" cy="107.8" r="4.45"/><circle cx="557.8" cy="83.7" r="4.45"/><circle cx="483.0" cy="157.7" r="4.45"/><circle cx="483.7" cy="127.9" r="4.45"/><circle cx="522.6" cy="138.0" r="4.45"/><circle cx="556.4" cy="88.8" r="4.45"/><circle cx="564.1" cy="90.3" r="4.45"/><circle cx="533.9" cy="105.9" r="4.45"/><circle cx="513.0" cy="107.1" r="4.45"/><circle cx="535.7" cy="82.3" r="4.45"/><circle cx="567.7" cy="76.4" r="4.45"/><circle cx="506.7" cy="119.1" r="4.45"/><circle cx="546.8" cy="105.1" r="4.45"/><circle cx="561.2" cy="110.9" r="4.45"/><circle cx="478.3" cy="139.3" r="4.45"/><circle cx="514.2" cy="126.0" r="4.45"/><circle cx="570.7" cy="86.1" r="4.45"/><circle cx="495.4" cy="144.4" r="4.45"/><circle cx="501.9" cy="123.0" r="4.45"/><circle cx="541.8" cy="117.5" r="4.45"/><circle cx="522.1" cy="118.8" r="4.45"/><circle cx="568.2" cy="59.3" r="4.45"/><circle cx="532.5" cy="105.6" r="4.45"/><circle cx="558.0" cy="88.2" r="4.45"/><circle cx="566.5" cy="84.5" r="4.45"/><circle cx="549.9" cy="90.7" r="4.45"/><circle cx="519.2" cy="109.3" r="4.45"/><circle cx="573.4" cy="85.0" r="4.45"/><circle cx="528.5" cy="129.3" r="4.45"/><circle cx="563.6" cy="86.0" r="4.45"/><circle cx="532.8" cy="88.6" r="4.45"/><circle cx="589.7" cy="53.7" r="4.45"/><circle cx="473.4" cy="138.2" r="4.45"/><circle cx="596.0" cy="55.7" r="4.45"/><circle cx="550.8" cy="84.0" r="4.45"/><circle cx="532.3" cy="115.0" r="4.45"/><circle cx="555.1" cy="67.2" r="4.45"/><circle cx="535.0" cy="94.3" r="4.45"/><circle cx="476.6" cy="143.2" r="4.45"/><circle cx="556.2" cy="74.6" r="4.45"/><circle cx="557.2" cy="107.8" r="4.45"/><circle cx="499.1" cy="135.4" r="4.45"/><circle cx="514.0" cy="129.8" r="4.45"/><circle cx="504.2" cy="154.8" r="4.45"/><circle cx="527.0" cy="124.2" r="4.45"/><circle cx="483.9" cy="129.9" r="4.45"/><circle cx="543.3" cy="118.7" r="4.45"/><circle cx="583.2" cy="61.3" r="4.45"/><circle cx="501.9" cy="151.1" r="4.45"/><circle cx="488.1" cy="139.2" r="4.45"/><circle cx="542.6" cy="90.6" r="4.45"/><circle cx="546.1" cy="101.2" r="4.45"/><circle cx="487.4" cy="129.5" r="4.45"/><circle cx="595.6" cy="49.5" r="4.45"/><circle cx="521.6" cy="106.2" r="4.45"/><circle cx="494.1" cy="145.9" r="4.45"/><circle cx="585.0" cy="61.6" r="4.45"/><circle cx="557.5" cy="85.5" r="4.45"/><circle cx="541.4" cy="120.7" r="4.45"/><circle cx="544.3" cy="69.3" r="4.45"/><circle cx="560.7" cy="71.4" r="4.45"/><circle cx="579.8" cy="62.9" r="4.45"/><circle cx="568.3" cy="56.3" r="4.45"/><circle cx="507.1" cy="122.3" r="4.45"/><circle cx="582.1" cy="67.9" r="4.45"/><circle cx="560.4" cy="92.4" r="4.45"/><circle cx="507.4" cy="111.6" r="4.45"/><circle cx="540.8" cy="116.8" r="4.45"/><circle cx="593.3" cy="68.6" r="4.45"/><circle cx="551.2" cy="83.9" r="4.45"/><circle cx="543.0" cy="92.7" r="4.45"/><circle cx="537.4" cy="102.9" r="4.45"/><circle cx="532.1" cy="115.6" r="4.45"/><circle cx="522.8" cy="107.9" r="4.45"/><circle cx="518.8" cy="124.5" r="4.45"/><circle cx="498.5" cy="146.3" r="4.45"/><circle cx="562.7" cy="61.2" r="4.45"/><circle cx="472.2" cy="148.3" r="4.45"/><circle cx="596.3" cy="48.6" r="4.45"/><circle cx="553.0" cy="75.2" r="4.45"/><circle cx="464.5" cy="150.6" r="4.45"/><circle cx="529.9" cy="82.5" r="4.45"/><circle cx="540.3" cy="122.5" r="4.45"/><circle cx="577.9" cy="79.9" r="4.45"/><circle cx="539.8" cy="117.1" r="4.45"/><circle cx="482.7" cy="157.1" r="4.45"/><circle cx="557.2" cy="88.1" r="4.45"/><circle cx="489.8" cy="159.8" r="4.45"/><circle cx="477.9" cy="156.0" r="4.45"/><circle cx="533.7" cy="102.4" r="4.45"/><circle cx="572.1" cy="95.1" r="4.45"/><circle cx="562.9" cy="62.2" r="4.45"/><circle cx="564.7" cy="73.5" r="4.45"/><circle cx="566.2" cy="69.9" r="4.45"/><circle cx="501.0" cy="153.5" r="4.45"/><circle cx="542.1" cy="98.2" r="4.45"/><circle cx="474.6" cy="137.5" r="4.45"/><circle cx="562.1" cy="57.7" r="4.45"/><circle cx="474.0" cy="148.2" r="4.45"/><circle cx="580.1" cy="73.0" r="4.45"/><circle cx="492.6" cy="154.1" r="4.45"/><circle cx="560.4" cy="59.1" r="4.45"/><circle cx="589.3" cy="59.2" r="4.45"/><circle cx="569.9" cy="89.7" r="4.45"/><circle cx="540.7" cy="68.4" r="4.45"/><circle cx="552.0" cy="93.5" r="4.45"/><circle cx="550.9" cy="94.5" r="4.45"/><circle cx="488.9" cy="145.9" r="4.45"/><circle cx="516.6" cy="137.1" r="4.45"/><circle cx="564.5" cy="94.1" r="4.45"/><circle cx="562.4" cy="99.3" r="4.45"/><circle cx="512.2" cy="120.4" r="4.45"/><circle cx="574.6" cy="88.2" r="4.45"/><circle cx="485.0" cy="120.6" r="4.45"/><circle cx="503.8" cy="112.2" r="4.45"/><circle cx="528.6" cy="97.9" r="4.45"/><circle cx="537.2" cy="99.2" r="4.45"/><circle cx="546.8" cy="72.6" r="4.45"/><circle cx="539.5" cy="105.9" r="4.45"/><circle cx="535.7" cy="119.8" r="4.45"/><circle cx="516.3" cy="128.9" r="4.45"/><circle cx="470.3" cy="145.3" r="4.45"/><circle cx="578.3" cy="58.3" r="4.45"/><circle cx="573.4" cy="61.1" r="4.45"/><circle cx="539.9" cy="95.2" r="4.45"/><circle cx="474.7" cy="147.0" r="4.45"/><circle cx="535.1" cy="122.8" r="4.45"/><circle cx="491.4" cy="141.8" r="4.45"/><circle cx="540.4" cy="105.5" r="4.45"/><circle cx="530.1" cy="112.0" r="4.45"/><circle cx="531.2" cy="109.4" r="4.45"/><circle cx="522.9" cy="133.1" r="4.45"/><circle cx="533.8" cy="96.0" r="4.45"/><circle cx="511.0" cy="113.3" r="4.45"/><circle cx="478.0" cy="143.9" r="4.45"/><circle cx="534.9" cy="114.3" r="4.45"/><circle cx="545.4" cy="100.7" r="4.45"/><circle cx="517.0" cy="128.2" r="4.45"/><circle cx="587.2" cy="57.6" r="4.45"/><circle cx="500.1" cy="126.8" r="4.45"/><circle cx="486.8" cy="143.4" r="4.45"/><circle cx="498.9" cy="152.0" r="4.45"/><circle cx="528.9" cy="115.8" r="4.45"/><circle cx="535.8" cy="91.8" r="4.45"/><circle cx="564.9" cy="59.8" r="4.45"/><circle cx="576.2" cy="88.1" r="4.45"/><circle cx="546.1" cy="100.6" r="4.45"/><circle cx="522.0" cy="120.8" r="4.45"/><circle cx="511.5" cy="133.1" r="4.45"/><circle cx="558.7" cy="63.1" r="4.45"/><circle cx="546.6" cy="74.2" r="4.45"/><circle cx="543.9" cy="71.8" r="4.45"/><circle cx="552.4" cy="72.7" r="4.45"/><circle cx="531.7" cy="95.6" r="4.45"/><circle cx="546.0" cy="91.1" r="4.45"/><circle cx="527.6" cy="120.1" r="4.45"/><circle cx="510.2" cy="133.2" r="4.45"/><circle cx="509.2" cy="148.1" r="4.45"/><circle cx="531.4" cy="113.9" r="4.45"/><circle cx="513.7" cy="123.2" r="4.45"/><circle cx="541.2" cy="128.8" r="4.45"/><circle cx="486.8" cy="149.7" r="4.45"/><circle cx="481.0" cy="148.1" r="4.45"/><circle cx="580.1" cy="76.5" r="4.45"/><circle cx="588.8" cy="68.6" r="4.45"/><circle cx="560.8" cy="93.3" r="4.45"/><circle cx="481.3" cy="161.8" r="4.45"/><circle cx="516.9" cy="130.4" r="4.45"/><circle cx="495.6" cy="156.5" r="4.45"/><circle cx="524.2" cy="133.6" r="4.45"/><circle cx="531.5" cy="123.3" r="4.45"/><circle cx="506.8" cy="149.4" r="4.45"/><circle cx="552.0" cy="77.9" r="4.45"/><circle cx="543.4" cy="85.5" r="4.45"/><circle cx="544.9" cy="120.2" r="4.45"/><circle cx="537.3" cy="112.2" r="4.45"/><circle cx="471.2" cy="143.8" r="4.45"/><circle cx="596.2" cy="54.7" r="4.45"/><circle cx="570.6" cy="81.0" r="4.45"/><circle cx="536.0" cy="86.4" r="4.45"/><circle cx="520.4" cy="110.9" r="4.45"/><circle cx="524.9" cy="132.7" r="4.45"/><circle cx="540.3" cy="101.2" r="4.45"/><circle cx="550.5" cy="78.2" r="4.45"/><circle cx="472.5" cy="152.5" r="4.45"/><circle cx="554.4" cy="105.6" r="4.45"/><circle cx="534.7" cy="74.2" r="4.45"/><circle cx="480.5" cy="124.9" r="4.45"/><circle cx="548.9" cy="110.2" r="4.45"/><circle cx="485.4" cy="141.8" r="4.45"/><circle cx="533.4" cy="93.9" r="4.45"/><circle cx="530.1" cy="112.6" r="4.45"/><circle cx="481.1" cy="127.4" r="4.45"/><circle cx="472.6" cy="134.5" r="4.45"/><circle cx="517.8" cy="105.0" r="4.45"/><circle cx="522.1" cy="98.0" r="4.45"/><circle cx="550.5" cy="69.5" r="4.45"/><circle cx="483.6" cy="132.2" r="4.45"/><circle cx="579.5" cy="63.5" r="4.45"/><circle cx="510.5" cy="145.4" r="4.45"/><circle cx="501.9" cy="133.2" r="4.45"/><circle cx="537.1" cy="69.4" r="4.45"/><circle cx="514.7" cy="110.9" r="4.45"/><circle cx="498.0" cy="141.9" r="4.45"/><circle cx="568.4" cy="85.2" r="4.45"/><circle cx="522.8" cy="102.2" r="4.45"/><circle cx="524.3" cy="133.9" r="4.45"/><circle cx="585.0" cy="50.4" r="4.45"/><circle cx="516.2" cy="142.0" r="4.45"/><circle cx="528.3" cy="127.4" r="4.45"/><circle cx="520.3" cy="132.4" r="4.45"/><circle cx="591.8" cy="53.6" r="4.45"/><circle cx="508.0" cy="113.1" r="4.45"/><circle cx="503.1" cy="111.7" r="4.45"/><circle cx="560.4" cy="84.6" r="4.45"/><circle cx="531.5" cy="83.7" r="4.45"/><circle cx="556.6" cy="82.7" r="4.45"/><circle cx="529.7" cy="126.9" r="4.45"/><circle cx="495.3" cy="129.7" r="4.45"/><circle cx="536.7" cy="134.8" r="4.45"/><circle cx="509.7" cy="131.1" r="4.45"/><circle cx="481.1" cy="157.6" r="4.45"/><circle cx="487.2" cy="118.2" r="4.45"/><circle cx="520.6" cy="132.9" r="4.45"/><circle cx="502.8" cy="139.9" r="4.45"/><circle cx="592.5" cy="47.6" r="4.45"/><circle cx="530.4" cy="107.2" r="4.45"/><circle cx="574.3" cy="53.8" r="4.45"/><circle cx="554.0" cy="92.0" r="4.45"/><circle cx="553.3" cy="82.8" r="4.45"/><circle cx="528.7" cy="134.2" r="4.45"/><circle cx="530.9" cy="106.4" r="4.45"/><circle cx="527.7" cy="121.4" r="4.45"/><circle cx="591.4" cy="56.3" r="4.45"/><circle cx="497.3" cy="117.3" r="4.45"/><circle cx="549.0" cy="84.6" r="4.45"/><circle cx="506.3" cy="134.6" r="4.45"/><circle cx="530.5" cy="108.1" r="4.45"/><circle cx="513.6" cy="137.5" r="4.45"/><circle cx="483.9" cy="141.5" r="4.45"/><circle cx="554.6" cy="110.5" r="4.45"/><circle cx="485.6" cy="134.8" r="4.45"/><circle cx="529.6" cy="117.2" r="4.45"/><circle cx="495.6" cy="148.9" r="4.45"/><circle cx="520.9" cy="111.7" r="4.45"/><circle cx="541.6" cy="74.9" r="4.45"/><circle cx="481.3" cy="124.7" r="4.45"/><circle cx="509.3" cy="137.0" r="4.45"/><circle cx="585.9" cy="46.7" r="4.45"/><circle cx="587.1" cy="77.1" r="4.45"/><circle cx="528.8" cy="90.8" r="4.45"/><circle cx="522.2" cy="111.5" r="4.45"/><circle cx="520.0" cy="101.9" r="4.45"/><circle cx="536.4" cy="99.2" r="4.45"/><circle cx="538.4" cy="78.9" r="4.45"/><circle cx="538.9" cy="92.5" r="4.45"/><circle cx="478.4" cy="126.2" r="4.45"/><circle cx="478.0" cy="151.3" r="4.45"/><circle cx="591.7" cy="49.7" r="4.45"/><circle cx="543.6" cy="105.8" r="4.45"/><circle cx="564.1" cy="79.8" r="4.45"/><circle cx="498.0" cy="132.0" r="4.45"/><circle cx="514.7" cy="97.3" r="4.45"/><circle cx="527.2" cy="117.0" r="4.45"/><circle cx="531.4" cy="129.4" r="4.45"/><circle cx="489.2" cy="145.5" r="4.45"/><circle cx="583.8" cy="67.1" r="4.45"/><circle cx="525.9" cy="122.8" r="4.45"/><circle cx="486.9" cy="123.5" r="4.45"/><circle cx="539.3" cy="92.2" r="4.45"/><circle cx="489.4" cy="159.2" r="4.45"/><circle cx="558.0" cy="67.6" r="4.45"/><circle cx="542.0" cy="120.1" r="4.45"/><circle cx="532.1" cy="101.0" r="4.45"/><circle cx="573.9" cy="58.0" r="4.45"/><circle cx="540.2" cy="96.8" r="4.45"/><circle cx="485.1" cy="158.7" r="4.45"/><circle cx="549.9" cy="87.1" r="4.45"/><circle cx="477.2" cy="124.7" r="4.45"/><circle cx="509.0" cy="148.6" r="4.45"/><circle cx="494.9" cy="136.8" r="4.45"/><circle cx="530.1" cy="86.1" r="4.45"/><circle cx="553.9" cy="79.3" r="4.45"/><circle cx="525.3" cy="102.4" r="4.45"/><circle cx="508.0" cy="127.7" r="4.45"/><circle cx="500.0" cy="148.3" r="4.45"/><circle cx="520.8" cy="104.2" r="4.45"/><circle cx="504.3" cy="134.6" r="4.45"/><circle cx="509.8" cy="145.0" r="4.45"/><circle cx="471.5" cy="150.7" r="4.45"/><circle cx="492.4" cy="152.4" r="4.45"/><circle cx="540.8" cy="95.5" r="4.45"/><circle cx="523.3" cy="131.6" r="4.45"/><circle cx="531.0" cy="82.7" r="4.45"/><circle cx="502.2" cy="111.1" r="4.45"/><circle cx="575.0" cy="94.7" r="4.45"/><circle cx="484.4" cy="140.8" r="4.45"/><circle cx="486.8" cy="119.5" r="4.45"/><circle cx="544.7" cy="104.5" r="4.45"/><circle cx="527.7" cy="124.5" r="4.45"/><circle cx="561.7" cy="82.4" r="4.45"/><circle cx="533.4" cy="98.1" r="4.45"/><circle cx="533.7" cy="114.1" r="4.45"/><circle cx="486.2" cy="150.1" r="4.45"/><circle cx="520.5" cy="119.4" r="4.45"/><circle cx="523.3" cy="92.2" r="4.45"/><circle cx="524.8" cy="116.6" r="4.45"/><circle cx="483.1" cy="128.5" r="4.45"/><circle cx="558.1" cy="111.6" r="4.45"/><circle cx="591.8" cy="67.5" r="4.45"/><circle cx="476.0" cy="153.6" r="4.45"/><circle cx="521.3" cy="137.8" r="4.45"/><circle cx="482.9" cy="130.5" r="4.45"/><circle cx="555.4" cy="100.2" r="4.45"/><circle cx="494.8" cy="134.3" r="4.45"/><circle cx="565.2" cy="94.2" r="4.45"/><circle cx="543.4" cy="70.9" r="4.45"/><circle cx="580.5" cy="66.8" r="4.45"/><circle cx="484.1" cy="142.5" r="4.45"/><circle cx="569.2" cy="51.0" r="4.45"/><circle cx="547.7" cy="82.4" r="4.45"/><circle cx="551.5" cy="97.8" r="4.45"/><circle cx="558.7" cy="76.7" r="4.45"/><circle cx="537.5" cy="108.5" r="4.45"/><circle cx="553.4" cy="76.2" r="4.45"/><circle cx="500.4" cy="146.0" r="4.45"/><circle cx="536.3" cy="124.6" r="4.45"/><circle cx="552.3" cy="66.8" r="4.45"/><circle cx="477.3" cy="154.0" r="4.45"/><circle cx="534.4" cy="116.9" r="4.45"/><circle cx="523.6" cy="110.8" r="4.45"/><circle cx="480.9" cy="131.7" r="4.45"/><circle cx="526.9" cy="136.1" r="4.45"/><circle cx="511.1" cy="134.5" r="4.45"/><circle cx="527.4" cy="123.7" r="4.45"/><circle cx="521.4" cy="132.4" r="4.45"/><circle cx="520.8" cy="107.7" r="4.45"/><circle cx="557.9" cy="74.9" r="4.45"/><circle cx="555.3" cy="87.1" r="4.45"/><circle cx="530.6" cy="110.5" r="4.45"/><circle cx="574.0" cy="95.1" r="4.45"/><circle cx="490.0" cy="145.2" r="4.45"/><circle cx="538.5" cy="101.7" r="4.45"/><circle cx="546.6" cy="96.6" r="4.45"/><circle cx="482.6" cy="136.8" r="4.45"/><circle cx="517.8" cy="111.9" r="4.45"/><circle cx="539.5" cy="101.2" r="4.45"/><circle cx="539.2" cy="98.8" r="4.45"/><circle cx="543.4" cy="76.5" r="4.45"/><circle cx="520.9" cy="100.6" r="4.45"/><circle cx="545.9" cy="92.5" r="4.45"/><circle cx="550.7" cy="97.7" r="4.45"/><circle cx="534.1" cy="108.9" r="4.45"/><circle cx="494.2" cy="108.1" r="4.45"/><circle cx="571.4" cy="95.8" r="4.45"/><circle cx="528.7" cy="86.3" r="4.45"/><circle cx="530.7" cy="97.0" r="4.45"/><circle cx="563.0" cy="99.2" r="4.45"/><circle cx="503.6" cy="106.0" r="4.45"/><circle cx="528.7" cy="95.1" r="4.45"/><circle cx="532.3" cy="94.9" r="4.45"/><circle cx="530.2" cy="101.2" r="4.45"/><circle cx="556.9" cy="60.5" r="4.45"/><circle cx="566.4" cy="83.8" r="4.45"/><circle cx="504.7" cy="147.9" r="4.45"/><circle cx="535.8" cy="123.1" r="4.45"/><circle cx="451.7" cy="188.1" r="4.45"/><circle cx="449.4" cy="172.2" r="4.45"/><circle cx="453.6" cy="172.9" r="4.45"/><circle cx="459.4" cy="175.7" r="4.45"/><circle cx="486.8" cy="172.2" r="4.45"/><circle cx="510.8" cy="166.8" r="4.45"/><circle cx="507.3" cy="162.9" r="4.45"/><circle cx="515.5" cy="152.3" r="4.45"/><circle cx="581.0" cy="36.4" r="4.45"/><circle cx="595.8" cy="36.4" r="4.45"/><circle cx="605.6" cy="35.2" r="4.45"/><circle cx="594.0" cy="42.7" r="4.45"/><circle cx="634.1" cy="43.4" r="4.45"/><circle cx="616.0" cy="44.0" r="4.45"/><circle cx="537.9" cy="63.2" r="4.45"/><circle cx="537.9" cy="73.3" r="4.45"/><circle cx="609.0" cy="81.2" r="4.45"/><circle cx="612.0" cy="81.2" r="4.45"/><circle cx="596.0" cy="73.7" r="4.45"/><circle cx="609.6" cy="60.2" r="4.45"/><circle cx="589.3" cy="108.2" r="4.45"/><circle cx="579.2" cy="115.2" r="4.45"/><circle cx="585.3" cy="98.9" r="4.45"/><circle cx="576.0" cy="98.2" r="4.45"/><circle cx="566.6" cy="98.9" r="4.45"/><circle cx="550.7" cy="135.6" r="4.45"/><circle cx="541.8" cy="141.4" r="4.45"/><circle cx="546.0" cy="127.4" r="4.45"/><circle cx="507.8" cy="162.4" r="4.45"/><circle cx="514.8" cy="152.0" r="4.45"/><circle cx="540.5" cy="142.6" r="4.45"/><circle cx="552.0" cy="135.6" r="4.45"/><circle cx="579.0" cy="113.4" r="4.45"/><circle cx="388.8" cy="108.5" r="4.45"/><circle cx="393.8" cy="152.1" r="4.45"/></g><line x1="388.8" y1="209.0" x2="633.5" y2="36.7" stroke="#00008b" stroke-width="3"/><path d="M388.8 18.5V232.5H682.3M388.8 232.5h3.6M388.8 196.8h3.6M388.8 161.2h3.6M388.8 125.5h3.6M388.8 89.8h3.6M388.8 54.2h3.6M388.8 18.5h3.6M388.8 232.5v-3.6M462.2 232.5v-3.6M535.5 232.5v-3.6M608.9 232.5v-3.6M682.3 232.5v-3.6" fill="none" stroke="#3a3a3a" stroke-width="1"/><g font-size="14.4" fill="#262626"><g text-anchor="end"><text x="382.7" y="238.1">0</text><text x="382.7" y="202.4">50</text><text x="382.7" y="166.8">100</text><text x="382.7" y="131.1">150</text><text x="382.7" y="95.4">200</text><text x="382.7" y="59.8">250</text><text x="382.7" y="24.1">300</text></g><g text-anchor="middle"><text x="388.3" y="252.5">0</text><text x="461.7" y="252.5">2</text><text x="535.0" y="252.5">4</text><text x="608.4" y="252.5">6</text><text x="681.8" y="252.5">8</text></g></g><g font-size="15.3" font-weight="bold" fill="#000" text-anchor="middle"><text x="195.6" y="11.8">Top and side views</text><text x="535" y="10.8">Top view</text></g><g font-size="15.6" fill="#262626" text-anchor="middle"><text x="196" y="272.5">Calculated volume [liter]</text><text x="536" y="271.5">Calculated volume [liter]</text><text transform="translate(10.6 126.5) rotate(-90)">Reference FW [g]</text></g><g font-size="14.9"><text x="204.2" y="168.3" fill="#8b1a1a">FW=51.8V+27.2</text><text x="204.2" y="185.9" fill="#228b22">FW=34.5V+30.6</text><text x="204.2" y="203.6" fill="#00008b">FW=27.2V+70</text><text x="543" y="166.6" fill="#8b1a1a">FW=66.9V+20.7</text><text x="543" y="184.2" fill="#228b22">FW=35.1V+30.1</text><text x="543" y="201.9" fill="#00008b">FW=36.2V+33</text></g><circle cx="216.6" cy="302.3" r="1.3" fill="#f00"/><path d="M321.09999999999997 302.4h9.2M325.7 297.79999999999995v9.2M322.45 299.15l6.51 6.51M322.45 305.65l6.51 -6.51" stroke="#0f0" stroke-width="1.1" fill="none"/><circle cx="418" cy="302.3" r="4.3" fill="none" stroke="#00f" stroke-width="1.1"/><g font-size="13.4" fill="#000"><text x="243.2" y="306.8">Vacuum</text><text x="351.6" y="306.8">Alpha</text><text x="444.4" y="306.8">Ball</text></g><g font-family="'Liberation Serif', 'Times New Roman', serif" font-size="18" fill="#000"><text x="182" y="335">a</text><text x="524.8" y="335.3">b</text></g></svg></body></html>
